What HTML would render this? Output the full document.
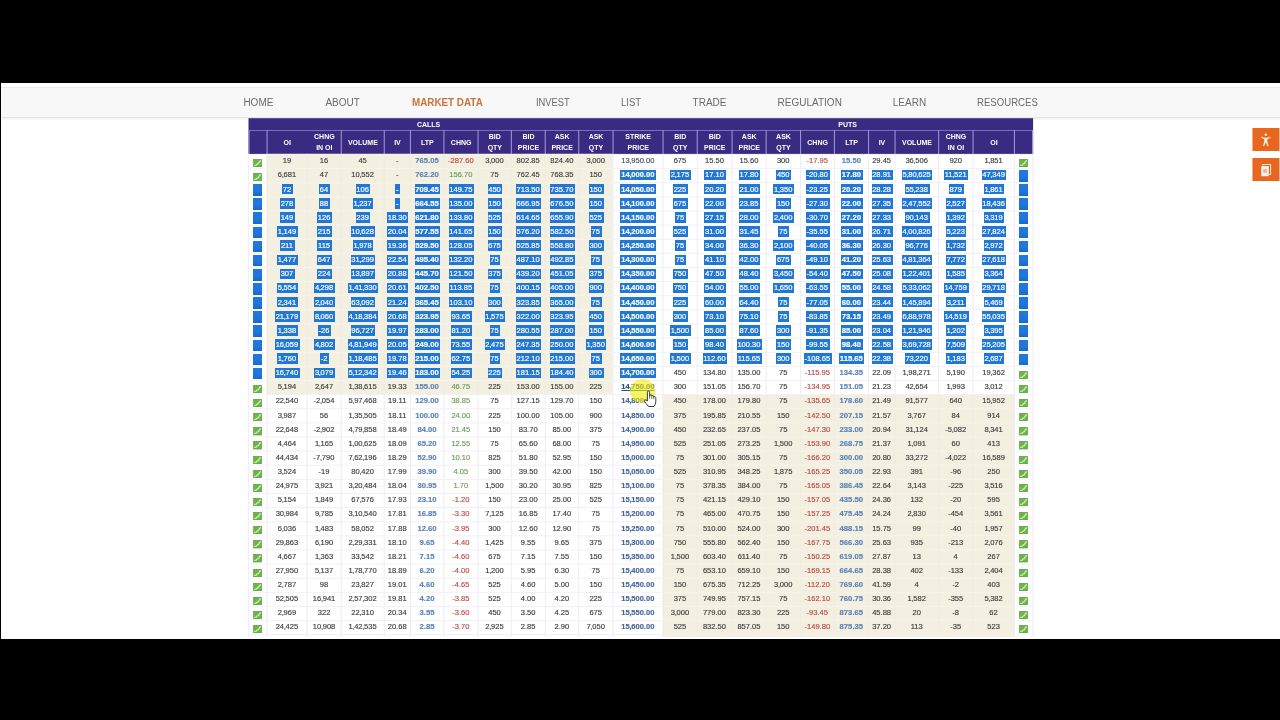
<!DOCTYPE html>
<html><head><meta charset="utf-8"><title>Option Chain</title>
<style>
html,body{margin:0;padding:0}
body{width:1280px;height:720px;overflow:hidden;position:relative;background:#fff;font-family:"Liberation Sans",sans-serif}
.bar{position:absolute;background:#000;z-index:50}
#nav{position:absolute;left:0;top:86.8px;width:1280px;height:29.6px;background:#f8f8f8;border-top:1px solid #ebebeb;border-bottom:1px solid #e6e6e6;box-shadow:0 1px 2px rgba(0,0,0,.08)}
.ni{position:absolute;top:0;height:29.6px;line-height:30.4px;font-size:10px;color:#6a6a6a;white-space:nowrap;text-align:left}
.ni span{display:inline-block;transform-origin:0 50%;filter:blur(.3px)}
.ni.act{color:#c8733a;font-weight:bold}
#tbl{position:absolute;left:0;top:0;width:1280px;height:720px;filter:blur(.4px)}
.hl{position:absolute;color:#fff;font-weight:bold;font-size:7px;line-height:14.4px;height:12px;transform:translateX(-50%)}
.hc{position:absolute;top:130.2px;height:23.6px;color:#fff;font-weight:bold;font-size:7px;line-height:10.6px;text-align:center;display:flex;align-items:center;justify-content:center}
.hc span{display:block;position:relative;top:.9px}
.rw{position:absolute;left:0;height:14.124px;width:1280px}
.c{position:absolute;top:0;height:14.124px;line-height:14.124px;font-size:7.55px;color:#3c3c3c;text-align:center;white-space:nowrap;-webkit-text-stroke:.15px}
.c span{display:inline-block;box-sizing:border-box;position:relative;left:.7px;padding-left:.6px;padding-right:1.6px;line-height:10.5px;height:10.5px;padding-top:.65px;vertical-align:top;margin-top:1.9px}
.c.ltp{color:#5b83b8;font-weight:bold;font-size:7.7px}
.c.sp{color:#46669c;font-weight:bold;font-size:7.56px}
.c.sp span{padding-left:1.6px;padding-right:1.6px;left:.2px}
.c.sp0{color:#454b58;font-weight:normal}
.c.neg{color:#bd4843}
.c.pos{color:#6a9c55}
.c.s span{background:#2277d3;color:#fff;-webkit-text-stroke:.22px #e8f4ff}
.c.hov span{text-decoration:underline;color:#2a4f8a}
.ic{position:absolute;left:4.4px;top:5.1px;width:9.1px;height:8.3px}
.bi{position:absolute;left:4.3px;top:2.1px;width:9.2px;height:11.6px;background:linear-gradient(#2079e0 0,#1f76dc 60%,#1a69c8 100%)}
.ob{position:absolute;left:1252px;transform:translateX(.46px);width:26.6px;height:22.6px;background:#e9661f}
.ob svg{position:absolute;left:0;top:0}
#ycirc{position:absolute;left:630.2px;top:379.4px;width:24.8px;height:23.3px;border-radius:50%;background:rgba(241,237,10,.62);filter:blur(.7px);z-index:5}
#hand{position:absolute;left:624px;top:376px;z-index:6}
.bgsvg{position:absolute;left:0;top:0}
.c b{font-weight:inherit;margin:0 -.3px}
.r .ic{left:5px}
.r .bi{left:4.9px}

</style></head>
<body>
<div id="nav">
<div class="ni" style="left:243.4px;width:29.6px"><span>HOME</span></div>
<div class="ni" style="left:325.4px;width:33.9px"><span>ABOUT</span></div>
<div class="ni act" style="left:411.7px;width:71.9px"><span style="transform:scaleX(0.985)">MARKET DATA</span></div>
<div class="ni" style="left:535.7px;width:33.6px"><span style="transform:scaleX(0.935)">INVEST</span></div>
<div class="ni" style="left:621.3px;width:19.2px"><span style="transform:scaleX(0.95)">LIST</span></div>
<div class="ni" style="left:692.6px;width:32.6px"><span>TRADE</span></div>
<div class="ni" style="left:777.6px;width:62.8px"><span>REGULATION</span></div>
<div class="ni" style="left:892.8px;width:32.6px"><span>LEARN</span></div>
<div class="ni" style="left:977.4px;width:59.5px"><span style="transform:scaleX(0.96)">RESOURCES</span></div>
</div>
<div id="tbl">
<svg class="bgsvg" width="1280" height="720" viewBox="0 0 1280 720"><rect x="248.5" y="118.2" width="784.6" height="35.7" fill="#392b82"/><rect x="266.7" y="153.84" width="346" height="240.11" fill="#f3efe1"/><rect x="662.7" y="393.95" width="351.4" height="254.23" fill="#f3efe1"/><rect x="248.5" y="130" width="784.6" height="0.9" fill="#8378c4"/><rect x="248.5" y="130" width="1.1" height="23.9" fill="#9b90d3"/><rect x="266.5" y="130" width="1.1" height="23.9" fill="#9b90d3"/><rect x="340.7" y="130" width="1.1" height="23.9" fill="#9b90d3"/><rect x="383.7" y="130" width="1.1" height="23.9" fill="#9b90d3"/><rect x="409.9" y="130" width="1.1" height="23.9" fill="#9b90d3"/><rect x="443.4" y="130" width="1.1" height="23.9" fill="#9b90d3"/><rect x="477.5" y="130" width="1.1" height="23.9" fill="#9b90d3"/><rect x="510.8" y="130" width="1.1" height="23.9" fill="#9b90d3"/><rect x="544.7" y="130" width="1.1" height="23.9" fill="#9b90d3"/><rect x="578.2" y="130" width="1.1" height="23.9" fill="#9b90d3"/><rect x="612.5" y="130" width="1.1" height="23.9" fill="#9b90d3"/><rect x="662.5" y="130" width="1.1" height="23.9" fill="#9b90d3"/><rect x="696.7" y="130" width="1.1" height="23.9" fill="#9b90d3"/><rect x="731.5" y="130" width="1.1" height="23.9" fill="#9b90d3"/><rect x="765.6" y="130" width="1.1" height="23.9" fill="#9b90d3"/><rect x="800" y="130" width="1.1" height="23.9" fill="#9b90d3"/><rect x="833.9" y="130" width="1.1" height="23.9" fill="#9b90d3"/><rect x="868" y="130" width="1.1" height="23.9" fill="#9b90d3"/><rect x="894.5" y="130" width="1.1" height="23.9" fill="#9b90d3"/><rect x="938.1" y="130" width="1.1" height="23.9" fill="#9b90d3"/><rect x="972.5" y="130" width="1.1" height="23.9" fill="#9b90d3"/><rect x="1013.9" y="130" width="1.1" height="23.9" fill="#9b90d3"/><rect x="1032" y="130" width="1.1" height="23.9" fill="#9b90d3"/><rect x="247.9" y="153.84" width="1" height="240.11" fill="#ededf4"/><rect x="247.9" y="393.95" width="1" height="254.23" fill="#ededf4"/><rect x="266.5" y="153.84" width="1" height="240.11" fill="#efece2"/><rect x="266.5" y="393.95" width="1" height="254.23" fill="#ededf4"/><rect x="306.6" y="153.84" width="1" height="240.11" fill="#efece2"/><rect x="306.6" y="393.95" width="1" height="254.23" fill="#ededf4"/><rect x="340.7" y="153.84" width="1" height="240.11" fill="#efece2"/><rect x="340.7" y="393.95" width="1" height="254.23" fill="#ededf4"/><rect x="383.7" y="153.84" width="1" height="240.11" fill="#efece2"/><rect x="383.7" y="393.95" width="1" height="254.23" fill="#ededf4"/><rect x="409.9" y="153.84" width="1" height="240.11" fill="#efece2"/><rect x="409.9" y="393.95" width="1" height="254.23" fill="#ededf4"/><rect x="443.4" y="153.84" width="1" height="240.11" fill="#efece2"/><rect x="443.4" y="393.95" width="1" height="254.23" fill="#ededf4"/><rect x="477.5" y="153.84" width="1" height="240.11" fill="#efece2"/><rect x="477.5" y="393.95" width="1" height="254.23" fill="#ededf4"/><rect x="510.8" y="153.84" width="1" height="240.11" fill="#efece2"/><rect x="510.8" y="393.95" width="1" height="254.23" fill="#ededf4"/><rect x="544.7" y="153.84" width="1" height="240.11" fill="#efece2"/><rect x="544.7" y="393.95" width="1" height="254.23" fill="#ededf4"/><rect x="578.2" y="153.84" width="1" height="240.11" fill="#efece2"/><rect x="578.2" y="393.95" width="1" height="254.23" fill="#ededf4"/><rect x="612.5" y="153.84" width="1" height="240.11" fill="#ededf4"/><rect x="612.5" y="393.95" width="1" height="254.23" fill="#ededf4"/><rect x="662.5" y="153.84" width="1" height="240.11" fill="#ededf4"/><rect x="662.5" y="393.95" width="1" height="254.23" fill="#efece2"/><rect x="696.7" y="153.84" width="1" height="240.11" fill="#ededf4"/><rect x="696.7" y="393.95" width="1" height="254.23" fill="#efece2"/><rect x="731.5" y="153.84" width="1" height="240.11" fill="#ededf4"/><rect x="731.5" y="393.95" width="1" height="254.23" fill="#efece2"/><rect x="765.6" y="153.84" width="1" height="240.11" fill="#ededf4"/><rect x="765.6" y="393.95" width="1" height="254.23" fill="#efece2"/><rect x="800" y="153.84" width="1" height="240.11" fill="#ededf4"/><rect x="800" y="393.95" width="1" height="254.23" fill="#efece2"/><rect x="833.9" y="153.84" width="1" height="240.11" fill="#ededf4"/><rect x="833.9" y="393.95" width="1" height="254.23" fill="#efece2"/><rect x="868" y="153.84" width="1" height="240.11" fill="#ededf4"/><rect x="868" y="393.95" width="1" height="254.23" fill="#efece2"/><rect x="894.5" y="153.84" width="1" height="240.11" fill="#ededf4"/><rect x="894.5" y="393.95" width="1" height="254.23" fill="#efece2"/><rect x="938.1" y="153.84" width="1" height="240.11" fill="#ededf4"/><rect x="938.1" y="393.95" width="1" height="254.23" fill="#efece2"/><rect x="972.5" y="153.84" width="1" height="240.11" fill="#ededf4"/><rect x="972.5" y="393.95" width="1" height="254.23" fill="#efece2"/><rect x="1013.9" y="153.84" width="1" height="240.11" fill="#ededf4"/><rect x="1013.9" y="393.95" width="1" height="254.23" fill="#ededf4"/><rect x="1032.5" y="153.84" width="1" height="240.11" fill="#ededf4"/><rect x="1032.5" y="393.95" width="1" height="254.23" fill="#ededf4"/><rect x="248.5" y="153.99" width="18.2" height="1" fill="#f5f5f9"/><rect x="266.7" y="153.99" width="346" height="1" fill="#f6f3ea"/><rect x="612.7" y="153.99" width="50" height="1" fill="#f1f1f6"/><rect x="662.7" y="153.99" width="351.4" height="1" fill="#f1f1f6"/><rect x="1014.1" y="153.99" width="19" height="1" fill="#f5f5f9"/><rect x="248.5" y="168.11" width="18.2" height="1" fill="#f5f5f9"/><rect x="266.7" y="168.11" width="346" height="1" fill="#f6f3ea"/><rect x="612.7" y="168.11" width="50" height="1" fill="#f1f1f6"/><rect x="662.7" y="168.11" width="351.4" height="1" fill="#f1f1f6"/><rect x="1014.1" y="168.11" width="19" height="1" fill="#f5f5f9"/><rect x="248.5" y="182.24" width="18.2" height="1" fill="#f5f5f9"/><rect x="266.7" y="182.24" width="346" height="1" fill="#f6f3ea"/><rect x="612.7" y="182.24" width="50" height="1" fill="#f1f1f6"/><rect x="662.7" y="182.24" width="351.4" height="1" fill="#f1f1f6"/><rect x="1014.1" y="182.24" width="19" height="1" fill="#f5f5f9"/><rect x="248.5" y="196.36" width="18.2" height="1" fill="#f5f5f9"/><rect x="266.7" y="196.36" width="346" height="1" fill="#f6f3ea"/><rect x="612.7" y="196.36" width="50" height="1" fill="#f1f1f6"/><rect x="662.7" y="196.36" width="351.4" height="1" fill="#f1f1f6"/><rect x="1014.1" y="196.36" width="19" height="1" fill="#f5f5f9"/><rect x="248.5" y="210.49" width="18.2" height="1" fill="#f5f5f9"/><rect x="266.7" y="210.49" width="346" height="1" fill="#f6f3ea"/><rect x="612.7" y="210.49" width="50" height="1" fill="#f1f1f6"/><rect x="662.7" y="210.49" width="351.4" height="1" fill="#f1f1f6"/><rect x="1014.1" y="210.49" width="19" height="1" fill="#f5f5f9"/><rect x="248.5" y="224.61" width="18.2" height="1" fill="#f5f5f9"/><rect x="266.7" y="224.61" width="346" height="1" fill="#f6f3ea"/><rect x="612.7" y="224.61" width="50" height="1" fill="#f1f1f6"/><rect x="662.7" y="224.61" width="351.4" height="1" fill="#f1f1f6"/><rect x="1014.1" y="224.61" width="19" height="1" fill="#f5f5f9"/><rect x="248.5" y="238.73" width="18.2" height="1" fill="#f5f5f9"/><rect x="266.7" y="238.73" width="346" height="1" fill="#f6f3ea"/><rect x="612.7" y="238.73" width="50" height="1" fill="#f1f1f6"/><rect x="662.7" y="238.73" width="351.4" height="1" fill="#f1f1f6"/><rect x="1014.1" y="238.73" width="19" height="1" fill="#f5f5f9"/><rect x="248.5" y="252.86" width="18.2" height="1" fill="#f5f5f9"/><rect x="266.7" y="252.86" width="346" height="1" fill="#f6f3ea"/><rect x="612.7" y="252.86" width="50" height="1" fill="#f1f1f6"/><rect x="662.7" y="252.86" width="351.4" height="1" fill="#f1f1f6"/><rect x="1014.1" y="252.86" width="19" height="1" fill="#f5f5f9"/><rect x="248.5" y="266.98" width="18.2" height="1" fill="#f5f5f9"/><rect x="266.7" y="266.98" width="346" height="1" fill="#f6f3ea"/><rect x="612.7" y="266.98" width="50" height="1" fill="#f1f1f6"/><rect x="662.7" y="266.98" width="351.4" height="1" fill="#f1f1f6"/><rect x="1014.1" y="266.98" width="19" height="1" fill="#f5f5f9"/><rect x="248.5" y="281.11" width="18.2" height="1" fill="#f5f5f9"/><rect x="266.7" y="281.11" width="346" height="1" fill="#f6f3ea"/><rect x="612.7" y="281.11" width="50" height="1" fill="#f1f1f6"/><rect x="662.7" y="281.11" width="351.4" height="1" fill="#f1f1f6"/><rect x="1014.1" y="281.11" width="19" height="1" fill="#f5f5f9"/><rect x="248.5" y="295.23" width="18.2" height="1" fill="#f5f5f9"/><rect x="266.7" y="295.23" width="346" height="1" fill="#f6f3ea"/><rect x="612.7" y="295.23" width="50" height="1" fill="#f1f1f6"/><rect x="662.7" y="295.23" width="351.4" height="1" fill="#f1f1f6"/><rect x="1014.1" y="295.23" width="19" height="1" fill="#f5f5f9"/><rect x="248.5" y="309.35" width="18.2" height="1" fill="#f5f5f9"/><rect x="266.7" y="309.35" width="346" height="1" fill="#f6f3ea"/><rect x="612.7" y="309.35" width="50" height="1" fill="#f1f1f6"/><rect x="662.7" y="309.35" width="351.4" height="1" fill="#f1f1f6"/><rect x="1014.1" y="309.35" width="19" height="1" fill="#f5f5f9"/><rect x="248.5" y="323.48" width="18.2" height="1" fill="#f5f5f9"/><rect x="266.7" y="323.48" width="346" height="1" fill="#f6f3ea"/><rect x="612.7" y="323.48" width="50" height="1" fill="#f1f1f6"/><rect x="662.7" y="323.48" width="351.4" height="1" fill="#f1f1f6"/><rect x="1014.1" y="323.48" width="19" height="1" fill="#f5f5f9"/><rect x="248.5" y="337.6" width="18.2" height="1" fill="#f5f5f9"/><rect x="266.7" y="337.6" width="346" height="1" fill="#f6f3ea"/><rect x="612.7" y="337.6" width="50" height="1" fill="#f1f1f6"/><rect x="662.7" y="337.6" width="351.4" height="1" fill="#f1f1f6"/><rect x="1014.1" y="337.6" width="19" height="1" fill="#f5f5f9"/><rect x="248.5" y="351.73" width="18.2" height="1" fill="#f5f5f9"/><rect x="266.7" y="351.73" width="346" height="1" fill="#f6f3ea"/><rect x="612.7" y="351.73" width="50" height="1" fill="#f1f1f6"/><rect x="662.7" y="351.73" width="351.4" height="1" fill="#f1f1f6"/><rect x="1014.1" y="351.73" width="19" height="1" fill="#f5f5f9"/><rect x="248.5" y="365.85" width="18.2" height="1" fill="#f5f5f9"/><rect x="266.7" y="365.85" width="346" height="1" fill="#f6f3ea"/><rect x="612.7" y="365.85" width="50" height="1" fill="#f1f1f6"/><rect x="662.7" y="365.85" width="351.4" height="1" fill="#f1f1f6"/><rect x="1014.1" y="365.85" width="19" height="1" fill="#f5f5f9"/><rect x="248.5" y="379.97" width="18.2" height="1" fill="#f5f5f9"/><rect x="266.7" y="379.97" width="346" height="1" fill="#f6f3ea"/><rect x="612.7" y="379.97" width="50" height="1" fill="#f1f1f6"/><rect x="662.7" y="379.97" width="351.4" height="1" fill="#f1f1f6"/><rect x="1014.1" y="379.97" width="19" height="1" fill="#f5f5f9"/><rect x="248.5" y="394.1" width="18.2" height="1" fill="#f5f5f9"/><rect x="266.7" y="394.1" width="346" height="1" fill="#f1f1f6"/><rect x="612.7" y="394.1" width="50" height="1" fill="#f1f1f6"/><rect x="662.7" y="394.1" width="351.4" height="1" fill="#f6f3ea"/><rect x="1014.1" y="394.1" width="19" height="1" fill="#f5f5f9"/><rect x="248.5" y="408.22" width="18.2" height="1" fill="#f5f5f9"/><rect x="266.7" y="408.22" width="346" height="1" fill="#f1f1f6"/><rect x="612.7" y="408.22" width="50" height="1" fill="#f1f1f6"/><rect x="662.7" y="408.22" width="351.4" height="1" fill="#f6f3ea"/><rect x="1014.1" y="408.22" width="19" height="1" fill="#f5f5f9"/><rect x="248.5" y="422.35" width="18.2" height="1" fill="#f5f5f9"/><rect x="266.7" y="422.35" width="346" height="1" fill="#f1f1f6"/><rect x="612.7" y="422.35" width="50" height="1" fill="#f1f1f6"/><rect x="662.7" y="422.35" width="351.4" height="1" fill="#f6f3ea"/><rect x="1014.1" y="422.35" width="19" height="1" fill="#f5f5f9"/><rect x="248.5" y="436.47" width="18.2" height="1" fill="#f5f5f9"/><rect x="266.7" y="436.47" width="346" height="1" fill="#f1f1f6"/><rect x="612.7" y="436.47" width="50" height="1" fill="#f1f1f6"/><rect x="662.7" y="436.47" width="351.4" height="1" fill="#f6f3ea"/><rect x="1014.1" y="436.47" width="19" height="1" fill="#f5f5f9"/><rect x="248.5" y="450.59" width="18.2" height="1" fill="#f5f5f9"/><rect x="266.7" y="450.59" width="346" height="1" fill="#f1f1f6"/><rect x="612.7" y="450.59" width="50" height="1" fill="#f1f1f6"/><rect x="662.7" y="450.59" width="351.4" height="1" fill="#f6f3ea"/><rect x="1014.1" y="450.59" width="19" height="1" fill="#f5f5f9"/><rect x="248.5" y="464.72" width="18.2" height="1" fill="#f5f5f9"/><rect x="266.7" y="464.72" width="346" height="1" fill="#f1f1f6"/><rect x="612.7" y="464.72" width="50" height="1" fill="#f1f1f6"/><rect x="662.7" y="464.72" width="351.4" height="1" fill="#f6f3ea"/><rect x="1014.1" y="464.72" width="19" height="1" fill="#f5f5f9"/><rect x="248.5" y="478.84" width="18.2" height="1" fill="#f5f5f9"/><rect x="266.7" y="478.84" width="346" height="1" fill="#f1f1f6"/><rect x="612.7" y="478.84" width="50" height="1" fill="#f1f1f6"/><rect x="662.7" y="478.84" width="351.4" height="1" fill="#f6f3ea"/><rect x="1014.1" y="478.84" width="19" height="1" fill="#f5f5f9"/><rect x="248.5" y="492.97" width="18.2" height="1" fill="#f5f5f9"/><rect x="266.7" y="492.97" width="346" height="1" fill="#f1f1f6"/><rect x="612.7" y="492.97" width="50" height="1" fill="#f1f1f6"/><rect x="662.7" y="492.97" width="351.4" height="1" fill="#f6f3ea"/><rect x="1014.1" y="492.97" width="19" height="1" fill="#f5f5f9"/><rect x="248.5" y="507.09" width="18.2" height="1" fill="#f5f5f9"/><rect x="266.7" y="507.09" width="346" height="1" fill="#f1f1f6"/><rect x="612.7" y="507.09" width="50" height="1" fill="#f1f1f6"/><rect x="662.7" y="507.09" width="351.4" height="1" fill="#f6f3ea"/><rect x="1014.1" y="507.09" width="19" height="1" fill="#f5f5f9"/><rect x="248.5" y="521.21" width="18.2" height="1" fill="#f5f5f9"/><rect x="266.7" y="521.21" width="346" height="1" fill="#f1f1f6"/><rect x="612.7" y="521.21" width="50" height="1" fill="#f1f1f6"/><rect x="662.7" y="521.21" width="351.4" height="1" fill="#f6f3ea"/><rect x="1014.1" y="521.21" width="19" height="1" fill="#f5f5f9"/><rect x="248.5" y="535.34" width="18.2" height="1" fill="#f5f5f9"/><rect x="266.7" y="535.34" width="346" height="1" fill="#f1f1f6"/><rect x="612.7" y="535.34" width="50" height="1" fill="#f1f1f6"/><rect x="662.7" y="535.34" width="351.4" height="1" fill="#f6f3ea"/><rect x="1014.1" y="535.34" width="19" height="1" fill="#f5f5f9"/><rect x="248.5" y="549.46" width="18.2" height="1" fill="#f5f5f9"/><rect x="266.7" y="549.46" width="346" height="1" fill="#f1f1f6"/><rect x="612.7" y="549.46" width="50" height="1" fill="#f1f1f6"/><rect x="662.7" y="549.46" width="351.4" height="1" fill="#f6f3ea"/><rect x="1014.1" y="549.46" width="19" height="1" fill="#f5f5f9"/><rect x="248.5" y="563.59" width="18.2" height="1" fill="#f5f5f9"/><rect x="266.7" y="563.59" width="346" height="1" fill="#f1f1f6"/><rect x="612.7" y="563.59" width="50" height="1" fill="#f1f1f6"/><rect x="662.7" y="563.59" width="351.4" height="1" fill="#f6f3ea"/><rect x="1014.1" y="563.59" width="19" height="1" fill="#f5f5f9"/><rect x="248.5" y="577.71" width="18.2" height="1" fill="#f5f5f9"/><rect x="266.7" y="577.71" width="346" height="1" fill="#f1f1f6"/><rect x="612.7" y="577.71" width="50" height="1" fill="#f1f1f6"/><rect x="662.7" y="577.71" width="351.4" height="1" fill="#f6f3ea"/><rect x="1014.1" y="577.71" width="19" height="1" fill="#f5f5f9"/><rect x="248.5" y="591.83" width="18.2" height="1" fill="#f5f5f9"/><rect x="266.7" y="591.83" width="346" height="1" fill="#f1f1f6"/><rect x="612.7" y="591.83" width="50" height="1" fill="#f1f1f6"/><rect x="662.7" y="591.83" width="351.4" height="1" fill="#f6f3ea"/><rect x="1014.1" y="591.83" width="19" height="1" fill="#f5f5f9"/><rect x="248.5" y="605.96" width="18.2" height="1" fill="#f5f5f9"/><rect x="266.7" y="605.96" width="346" height="1" fill="#f1f1f6"/><rect x="612.7" y="605.96" width="50" height="1" fill="#f1f1f6"/><rect x="662.7" y="605.96" width="351.4" height="1" fill="#f6f3ea"/><rect x="1014.1" y="605.96" width="19" height="1" fill="#f5f5f9"/><rect x="248.5" y="620.08" width="18.2" height="1" fill="#f5f5f9"/><rect x="266.7" y="620.08" width="346" height="1" fill="#f1f1f6"/><rect x="612.7" y="620.08" width="50" height="1" fill="#f1f1f6"/><rect x="662.7" y="620.08" width="351.4" height="1" fill="#f6f3ea"/><rect x="1014.1" y="620.08" width="19" height="1" fill="#f5f5f9"/><rect x="248.5" y="634.21" width="18.2" height="1" fill="#f5f5f9"/><rect x="266.7" y="634.21" width="346" height="1" fill="#f1f1f6"/><rect x="612.7" y="634.21" width="50" height="1" fill="#f1f1f6"/><rect x="662.7" y="634.21" width="351.4" height="1" fill="#f6f3ea"/><rect x="1014.1" y="634.21" width="19" height="1" fill="#f5f5f9"/></svg>
<div class="hl" style="left:428.6px;top:118.2px">CALLS</div>
<div class="hl" style="left:847.6px;top:118.2px">PUTS</div>
<div class="hc" style="left:249px;width:18.2px"><span></span></div>
<div class="hc" style="left:267.2px;width:40.1px"><span>OI</span></div>
<div class="hc" style="left:307.3px;width:34.1px"><span>CHNG<br>IN OI</span></div>
<div class="hc" style="left:341.4px;width:43px"><span>VOLUME</span></div>
<div class="hc" style="left:384.4px;width:26.2px"><span>IV</span></div>
<div class="hc" style="left:410.6px;width:33.5px"><span>LTP</span></div>
<div class="hc" style="left:444.1px;width:34.1px"><span>CHNG</span></div>
<div class="hc" style="left:478.2px;width:33.3px"><span>BID<br>QTY</span></div>
<div class="hc" style="left:511.5px;width:33.9px"><span>BID<br>PRICE</span></div>
<div class="hc" style="left:545.4px;width:33.5px"><span>ASK<br>PRICE</span></div>
<div class="hc" style="left:578.9px;width:34.3px"><span>ASK<br>QTY</span></div>
<div class="hc" style="left:613.2px;width:50px"><span>STRIKE<br>PRICE</span></div>
<div class="hc" style="left:663.2px;width:34.2px"><span>BID<br>QTY</span></div>
<div class="hc" style="left:697.4px;width:34.8px"><span>BID<br>PRICE</span></div>
<div class="hc" style="left:732.2px;width:34.1px"><span>ASK<br>PRICE</span></div>
<div class="hc" style="left:766.3px;width:34.4px"><span>ASK<br>QTY</span></div>
<div class="hc" style="left:800.7px;width:33.9px"><span>CHNG</span></div>
<div class="hc" style="left:834.6px;width:34.1px"><span>LTP</span></div>
<div class="hc" style="left:868.7px;width:26.5px"><span>IV</span></div>
<div class="hc" style="left:895.2px;width:43.6px"><span>VOLUME</span></div>
<div class="hc" style="left:938.8px;width:34.4px"><span>CHNG<br>IN OI</span></div>
<div class="hc" style="left:973.2px;width:41.4px"><span>OI</span></div>
<div class="hc" style="left:1014.6px;width:19px"><span></span></div>
<div class="rw" style="top:153.84px">
<div class="c icn" style="left:248.5px;width:18.2px"><svg class="ic" viewBox="0 0 18 17"><rect x=".5" y=".5" width="17" height="16" fill="#6db24c" stroke="#55913c"/><path d="M3.2 13.2 L6.4 12.6 L8.4 9.8 L11 9.4 L12.4 6.2 L14.8 3.6" fill="none" stroke="#c6f8ab" stroke-width="2.5" stroke-linecap="round" stroke-linejoin="round"/></svg></div>
<div class="c cr" style="left:266.7px;width:40.1px"><span>19</span></div>
<div class="c cr" style="left:306.8px;width:34.1px"><span>16</span></div>
<div class="c cr" style="left:340.9px;width:43px"><span>45</span></div>
<div class="c cr" style="left:383.9px;width:26.2px"><span>-</span></div>
<div class="c cr ltp" style="left:410.1px;width:33.5px"><span>765.05</span></div>
<div class="c cr neg" style="left:443.6px;width:34.1px"><span>-287.60</span></div>
<div class="c cr" style="left:477.7px;width:33.3px"><span>3<b>,</b>000</span></div>
<div class="c cr" style="left:511px;width:33.9px"><span>802.85</span></div>
<div class="c cr" style="left:544.9px;width:33.5px"><span>824.40</span></div>
<div class="c cr" style="left:578.4px;width:34.3px"><span>3<b>,</b>000</span></div>
<div class="c sp sp0" style="left:612.7px;width:50px"><span>13<b>,</b>950.00</span></div>
<div class="c" style="left:662.7px;width:34.2px"><span>675</span></div>
<div class="c" style="left:696.9px;width:34.8px"><span>15.50</span></div>
<div class="c" style="left:731.7px;width:34.1px"><span>15.60</span></div>
<div class="c" style="left:765.8px;width:34.4px"><span>300</span></div>
<div class="c neg" style="left:800.2px;width:33.9px"><span>-17.95</span></div>
<div class="c ltp" style="left:834.1px;width:34.1px"><span>15.50</span></div>
<div class="c" style="left:868.2px;width:26.5px"><span>29.45</span></div>
<div class="c" style="left:894.7px;width:43.6px"><span>36<b>,</b>506</span></div>
<div class="c" style="left:938.3px;width:34.4px"><span>920</span></div>
<div class="c" style="left:972.7px;width:41.4px"><span>1<b>,</b>851</span></div>
<div class="c icn r" style="left:1014.1px;width:19px"><svg class="ic" viewBox="0 0 18 17"><rect x=".5" y=".5" width="17" height="16" fill="#6db24c" stroke="#55913c"/><path d="M3.2 13.2 L6.4 12.6 L8.4 9.8 L11 9.4 L12.4 6.2 L14.8 3.6" fill="none" stroke="#c6f8ab" stroke-width="2.5" stroke-linecap="round" stroke-linejoin="round"/></svg></div>
</div>
<div class="rw" style="top:167.96px">
<div class="c icn" style="left:248.5px;width:18.2px"><svg class="ic" viewBox="0 0 18 17"><rect x=".5" y=".5" width="17" height="16" fill="#6db24c" stroke="#55913c"/><path d="M3.2 13.2 L6.4 12.6 L8.4 9.8 L11 9.4 L12.4 6.2 L14.8 3.6" fill="none" stroke="#c6f8ab" stroke-width="2.5" stroke-linecap="round" stroke-linejoin="round"/></svg></div>
<div class="c cr" style="left:266.7px;width:40.1px"><span>6<b>,</b>681</span></div>
<div class="c cr" style="left:306.8px;width:34.1px"><span>47</span></div>
<div class="c cr" style="left:340.9px;width:43px"><span>10<b>,</b>552</span></div>
<div class="c cr" style="left:383.9px;width:26.2px"><span>-</span></div>
<div class="c cr ltp" style="left:410.1px;width:33.5px"><span>762.20</span></div>
<div class="c cr pos" style="left:443.6px;width:34.1px"><span>156.70</span></div>
<div class="c cr" style="left:477.7px;width:33.3px"><span>75</span></div>
<div class="c cr" style="left:511px;width:33.9px"><span>762.45</span></div>
<div class="c cr" style="left:544.9px;width:33.5px"><span>768.35</span></div>
<div class="c cr" style="left:578.4px;width:34.3px"><span>150</span></div>
<div class="c sp s" style="left:612.7px;width:50px"><span>14<b>,</b>000.00</span></div>
<div class="c s" style="left:662.7px;width:34.2px"><span>2<b>,</b>175</span></div>
<div class="c s" style="left:696.9px;width:34.8px"><span>17.10</span></div>
<div class="c s" style="left:731.7px;width:34.1px"><span>17.80</span></div>
<div class="c s" style="left:765.8px;width:34.4px"><span>450</span></div>
<div class="c neg s" style="left:800.2px;width:33.9px"><span>-20.80</span></div>
<div class="c ltp s" style="left:834.1px;width:34.1px"><span>17.80</span></div>
<div class="c s" style="left:868.2px;width:26.5px"><span>28.91</span></div>
<div class="c s" style="left:894.7px;width:43.6px"><span>5<b>,</b>80<b>,</b>625</span></div>
<div class="c s" style="left:938.3px;width:34.4px"><span>11<b>,</b>521</span></div>
<div class="c s" style="left:972.7px;width:41.4px"><span>47<b>,</b>349</span></div>
<div class="c icn r" style="left:1014.1px;width:19px"><i class="bi"></i></div>
</div>
<div class="rw" style="top:182.09px">
<div class="c icn" style="left:248.5px;width:18.2px"><i class="bi"></i></div>
<div class="c cr s" style="left:266.7px;width:40.1px"><span>72</span></div>
<div class="c cr s" style="left:306.8px;width:34.1px"><span>64</span></div>
<div class="c cr s" style="left:340.9px;width:43px"><span>106</span></div>
<div class="c cr s" style="left:383.9px;width:26.2px"><span>-</span></div>
<div class="c cr ltp s" style="left:410.1px;width:33.5px"><span>709.45</span></div>
<div class="c cr pos s" style="left:443.6px;width:34.1px"><span>149.75</span></div>
<div class="c cr s" style="left:477.7px;width:33.3px"><span>450</span></div>
<div class="c cr s" style="left:511px;width:33.9px"><span>713.50</span></div>
<div class="c cr s" style="left:544.9px;width:33.5px"><span>735.70</span></div>
<div class="c cr s" style="left:578.4px;width:34.3px"><span>150</span></div>
<div class="c sp s" style="left:612.7px;width:50px"><span>14<b>,</b>050.00</span></div>
<div class="c s" style="left:662.7px;width:34.2px"><span>225</span></div>
<div class="c s" style="left:696.9px;width:34.8px"><span>20.20</span></div>
<div class="c s" style="left:731.7px;width:34.1px"><span>21.00</span></div>
<div class="c s" style="left:765.8px;width:34.4px"><span>1<b>,</b>350</span></div>
<div class="c neg s" style="left:800.2px;width:33.9px"><span>-23.25</span></div>
<div class="c ltp s" style="left:834.1px;width:34.1px"><span>20.20</span></div>
<div class="c s" style="left:868.2px;width:26.5px"><span>28.28</span></div>
<div class="c s" style="left:894.7px;width:43.6px"><span>55<b>,</b>238</span></div>
<div class="c s" style="left:938.3px;width:34.4px"><span>879</span></div>
<div class="c s" style="left:972.7px;width:41.4px"><span>1<b>,</b>861</span></div>
<div class="c icn r" style="left:1014.1px;width:19px"><i class="bi"></i></div>
</div>
<div class="rw" style="top:196.21px">
<div class="c icn" style="left:248.5px;width:18.2px"><i class="bi"></i></div>
<div class="c cr s" style="left:266.7px;width:40.1px"><span>278</span></div>
<div class="c cr s" style="left:306.8px;width:34.1px"><span>88</span></div>
<div class="c cr s" style="left:340.9px;width:43px"><span>1<b>,</b>237</span></div>
<div class="c cr s" style="left:383.9px;width:26.2px"><span>-</span></div>
<div class="c cr ltp s" style="left:410.1px;width:33.5px"><span>664.55</span></div>
<div class="c cr pos s" style="left:443.6px;width:34.1px"><span>135.00</span></div>
<div class="c cr s" style="left:477.7px;width:33.3px"><span>150</span></div>
<div class="c cr s" style="left:511px;width:33.9px"><span>666.95</span></div>
<div class="c cr s" style="left:544.9px;width:33.5px"><span>676.50</span></div>
<div class="c cr s" style="left:578.4px;width:34.3px"><span>150</span></div>
<div class="c sp s" style="left:612.7px;width:50px"><span>14<b>,</b>100.00</span></div>
<div class="c s" style="left:662.7px;width:34.2px"><span>675</span></div>
<div class="c s" style="left:696.9px;width:34.8px"><span>22.00</span></div>
<div class="c s" style="left:731.7px;width:34.1px"><span>23.85</span></div>
<div class="c s" style="left:765.8px;width:34.4px"><span>150</span></div>
<div class="c neg s" style="left:800.2px;width:33.9px"><span>-27.30</span></div>
<div class="c ltp s" style="left:834.1px;width:34.1px"><span>22.00</span></div>
<div class="c s" style="left:868.2px;width:26.5px"><span>27.35</span></div>
<div class="c s" style="left:894.7px;width:43.6px"><span>2<b>,</b>47<b>,</b>552</span></div>
<div class="c s" style="left:938.3px;width:34.4px"><span>2<b>,</b>527</span></div>
<div class="c s" style="left:972.7px;width:41.4px"><span>18<b>,</b>436</span></div>
<div class="c icn r" style="left:1014.1px;width:19px"><i class="bi"></i></div>
</div>
<div class="rw" style="top:210.34px">
<div class="c icn" style="left:248.5px;width:18.2px"><i class="bi"></i></div>
<div class="c cr s" style="left:266.7px;width:40.1px"><span>149</span></div>
<div class="c cr s" style="left:306.8px;width:34.1px"><span>126</span></div>
<div class="c cr s" style="left:340.9px;width:43px"><span>239</span></div>
<div class="c cr s" style="left:383.9px;width:26.2px"><span>18.30</span></div>
<div class="c cr ltp s" style="left:410.1px;width:33.5px"><span>621.80</span></div>
<div class="c cr pos s" style="left:443.6px;width:34.1px"><span>133.80</span></div>
<div class="c cr s" style="left:477.7px;width:33.3px"><span>525</span></div>
<div class="c cr s" style="left:511px;width:33.9px"><span>614.65</span></div>
<div class="c cr s" style="left:544.9px;width:33.5px"><span>655.90</span></div>
<div class="c cr s" style="left:578.4px;width:34.3px"><span>525</span></div>
<div class="c sp s" style="left:612.7px;width:50px"><span>14<b>,</b>150.00</span></div>
<div class="c s" style="left:662.7px;width:34.2px"><span>75</span></div>
<div class="c s" style="left:696.9px;width:34.8px"><span>27.15</span></div>
<div class="c s" style="left:731.7px;width:34.1px"><span>28.00</span></div>
<div class="c s" style="left:765.8px;width:34.4px"><span>2<b>,</b>400</span></div>
<div class="c neg s" style="left:800.2px;width:33.9px"><span>-30.70</span></div>
<div class="c ltp s" style="left:834.1px;width:34.1px"><span>27.20</span></div>
<div class="c s" style="left:868.2px;width:26.5px"><span>27.33</span></div>
<div class="c s" style="left:894.7px;width:43.6px"><span>90<b>,</b>143</span></div>
<div class="c s" style="left:938.3px;width:34.4px"><span>1<b>,</b>392</span></div>
<div class="c s" style="left:972.7px;width:41.4px"><span>3<b>,</b>319</span></div>
<div class="c icn r" style="left:1014.1px;width:19px"><i class="bi"></i></div>
</div>
<div class="rw" style="top:224.46px">
<div class="c icn" style="left:248.5px;width:18.2px"><i class="bi"></i></div>
<div class="c cr s" style="left:266.7px;width:40.1px"><span>1<b>,</b>149</span></div>
<div class="c cr s" style="left:306.8px;width:34.1px"><span>215</span></div>
<div class="c cr s" style="left:340.9px;width:43px"><span>10<b>,</b>628</span></div>
<div class="c cr s" style="left:383.9px;width:26.2px"><span>20.04</span></div>
<div class="c cr ltp s" style="left:410.1px;width:33.5px"><span>577.55</span></div>
<div class="c cr pos s" style="left:443.6px;width:34.1px"><span>141.65</span></div>
<div class="c cr s" style="left:477.7px;width:33.3px"><span>150</span></div>
<div class="c cr s" style="left:511px;width:33.9px"><span>576.20</span></div>
<div class="c cr s" style="left:544.9px;width:33.5px"><span>582.50</span></div>
<div class="c cr s" style="left:578.4px;width:34.3px"><span>75</span></div>
<div class="c sp s" style="left:612.7px;width:50px"><span>14<b>,</b>200.00</span></div>
<div class="c s" style="left:662.7px;width:34.2px"><span>525</span></div>
<div class="c s" style="left:696.9px;width:34.8px"><span>31.00</span></div>
<div class="c s" style="left:731.7px;width:34.1px"><span>31.45</span></div>
<div class="c s" style="left:765.8px;width:34.4px"><span>75</span></div>
<div class="c neg s" style="left:800.2px;width:33.9px"><span>-35.55</span></div>
<div class="c ltp s" style="left:834.1px;width:34.1px"><span>31.00</span></div>
<div class="c s" style="left:868.2px;width:26.5px"><span>26.71</span></div>
<div class="c s" style="left:894.7px;width:43.6px"><span>4<b>,</b>00<b>,</b>826</span></div>
<div class="c s" style="left:938.3px;width:34.4px"><span>5<b>,</b>223</span></div>
<div class="c s" style="left:972.7px;width:41.4px"><span>27<b>,</b>824</span></div>
<div class="c icn r" style="left:1014.1px;width:19px"><i class="bi"></i></div>
</div>
<div class="rw" style="top:238.58px">
<div class="c icn" style="left:248.5px;width:18.2px"><i class="bi"></i></div>
<div class="c cr s" style="left:266.7px;width:40.1px"><span>211</span></div>
<div class="c cr s" style="left:306.8px;width:34.1px"><span>115</span></div>
<div class="c cr s" style="left:340.9px;width:43px"><span>1<b>,</b>978</span></div>
<div class="c cr s" style="left:383.9px;width:26.2px"><span>19.36</span></div>
<div class="c cr ltp s" style="left:410.1px;width:33.5px"><span>529.50</span></div>
<div class="c cr pos s" style="left:443.6px;width:34.1px"><span>128.05</span></div>
<div class="c cr s" style="left:477.7px;width:33.3px"><span>675</span></div>
<div class="c cr s" style="left:511px;width:33.9px"><span>525.85</span></div>
<div class="c cr s" style="left:544.9px;width:33.5px"><span>558.80</span></div>
<div class="c cr s" style="left:578.4px;width:34.3px"><span>300</span></div>
<div class="c sp s" style="left:612.7px;width:50px"><span>14<b>,</b>250.00</span></div>
<div class="c s" style="left:662.7px;width:34.2px"><span>75</span></div>
<div class="c s" style="left:696.9px;width:34.8px"><span>34.00</span></div>
<div class="c s" style="left:731.7px;width:34.1px"><span>36.30</span></div>
<div class="c s" style="left:765.8px;width:34.4px"><span>2<b>,</b>100</span></div>
<div class="c neg s" style="left:800.2px;width:33.9px"><span>-40.05</span></div>
<div class="c ltp s" style="left:834.1px;width:34.1px"><span>36.30</span></div>
<div class="c s" style="left:868.2px;width:26.5px"><span>26.30</span></div>
<div class="c s" style="left:894.7px;width:43.6px"><span>96<b>,</b>776</span></div>
<div class="c s" style="left:938.3px;width:34.4px"><span>1<b>,</b>732</span></div>
<div class="c s" style="left:972.7px;width:41.4px"><span>2<b>,</b>972</span></div>
<div class="c icn r" style="left:1014.1px;width:19px"><i class="bi"></i></div>
</div>
<div class="rw" style="top:252.71px">
<div class="c icn" style="left:248.5px;width:18.2px"><i class="bi"></i></div>
<div class="c cr s" style="left:266.7px;width:40.1px"><span>1<b>,</b>477</span></div>
<div class="c cr s" style="left:306.8px;width:34.1px"><span>647</span></div>
<div class="c cr s" style="left:340.9px;width:43px"><span>31<b>,</b>299</span></div>
<div class="c cr s" style="left:383.9px;width:26.2px"><span>22.54</span></div>
<div class="c cr ltp s" style="left:410.1px;width:33.5px"><span>495.40</span></div>
<div class="c cr pos s" style="left:443.6px;width:34.1px"><span>132.20</span></div>
<div class="c cr s" style="left:477.7px;width:33.3px"><span>75</span></div>
<div class="c cr s" style="left:511px;width:33.9px"><span>487.10</span></div>
<div class="c cr s" style="left:544.9px;width:33.5px"><span>492.85</span></div>
<div class="c cr s" style="left:578.4px;width:34.3px"><span>75</span></div>
<div class="c sp s" style="left:612.7px;width:50px"><span>14<b>,</b>300.00</span></div>
<div class="c s" style="left:662.7px;width:34.2px"><span>75</span></div>
<div class="c s" style="left:696.9px;width:34.8px"><span>41.10</span></div>
<div class="c s" style="left:731.7px;width:34.1px"><span>42.00</span></div>
<div class="c s" style="left:765.8px;width:34.4px"><span>675</span></div>
<div class="c neg s" style="left:800.2px;width:33.9px"><span>-49.10</span></div>
<div class="c ltp s" style="left:834.1px;width:34.1px"><span>41.20</span></div>
<div class="c s" style="left:868.2px;width:26.5px"><span>25.63</span></div>
<div class="c s" style="left:894.7px;width:43.6px"><span>4<b>,</b>81<b>,</b>364</span></div>
<div class="c s" style="left:938.3px;width:34.4px"><span>7<b>,</b>772</span></div>
<div class="c s" style="left:972.7px;width:41.4px"><span>27<b>,</b>618</span></div>
<div class="c icn r" style="left:1014.1px;width:19px"><i class="bi"></i></div>
</div>
<div class="rw" style="top:266.83px">
<div class="c icn" style="left:248.5px;width:18.2px"><i class="bi"></i></div>
<div class="c cr s" style="left:266.7px;width:40.1px"><span>307</span></div>
<div class="c cr s" style="left:306.8px;width:34.1px"><span>224</span></div>
<div class="c cr s" style="left:340.9px;width:43px"><span>13<b>,</b>897</span></div>
<div class="c cr s" style="left:383.9px;width:26.2px"><span>20.88</span></div>
<div class="c cr ltp s" style="left:410.1px;width:33.5px"><span>445.70</span></div>
<div class="c cr pos s" style="left:443.6px;width:34.1px"><span>121.50</span></div>
<div class="c cr s" style="left:477.7px;width:33.3px"><span>375</span></div>
<div class="c cr s" style="left:511px;width:33.9px"><span>439.20</span></div>
<div class="c cr s" style="left:544.9px;width:33.5px"><span>451.05</span></div>
<div class="c cr s" style="left:578.4px;width:34.3px"><span>375</span></div>
<div class="c sp s" style="left:612.7px;width:50px"><span>14<b>,</b>350.00</span></div>
<div class="c s" style="left:662.7px;width:34.2px"><span>750</span></div>
<div class="c s" style="left:696.9px;width:34.8px"><span>47.50</span></div>
<div class="c s" style="left:731.7px;width:34.1px"><span>48.40</span></div>
<div class="c s" style="left:765.8px;width:34.4px"><span>3<b>,</b>450</span></div>
<div class="c neg s" style="left:800.2px;width:33.9px"><span>-54.40</span></div>
<div class="c ltp s" style="left:834.1px;width:34.1px"><span>47.50</span></div>
<div class="c s" style="left:868.2px;width:26.5px"><span>25.08</span></div>
<div class="c s" style="left:894.7px;width:43.6px"><span>1<b>,</b>22<b>,</b>401</span></div>
<div class="c s" style="left:938.3px;width:34.4px"><span>1<b>,</b>585</span></div>
<div class="c s" style="left:972.7px;width:41.4px"><span>3<b>,</b>364</span></div>
<div class="c icn r" style="left:1014.1px;width:19px"><i class="bi"></i></div>
</div>
<div class="rw" style="top:280.96px">
<div class="c icn" style="left:248.5px;width:18.2px"><i class="bi"></i></div>
<div class="c cr s" style="left:266.7px;width:40.1px"><span>5<b>,</b>554</span></div>
<div class="c cr s" style="left:306.8px;width:34.1px"><span>4<b>,</b>298</span></div>
<div class="c cr s" style="left:340.9px;width:43px"><span>1<b>,</b>41<b>,</b>330</span></div>
<div class="c cr s" style="left:383.9px;width:26.2px"><span>20.61</span></div>
<div class="c cr ltp s" style="left:410.1px;width:33.5px"><span>402.50</span></div>
<div class="c cr pos s" style="left:443.6px;width:34.1px"><span>113.85</span></div>
<div class="c cr s" style="left:477.7px;width:33.3px"><span>75</span></div>
<div class="c cr s" style="left:511px;width:33.9px"><span>400.15</span></div>
<div class="c cr s" style="left:544.9px;width:33.5px"><span>405.00</span></div>
<div class="c cr s" style="left:578.4px;width:34.3px"><span>900</span></div>
<div class="c sp s" style="left:612.7px;width:50px"><span>14<b>,</b>400.00</span></div>
<div class="c s" style="left:662.7px;width:34.2px"><span>750</span></div>
<div class="c s" style="left:696.9px;width:34.8px"><span>54.00</span></div>
<div class="c s" style="left:731.7px;width:34.1px"><span>55.00</span></div>
<div class="c s" style="left:765.8px;width:34.4px"><span>1<b>,</b>650</span></div>
<div class="c neg s" style="left:800.2px;width:33.9px"><span>-63.55</span></div>
<div class="c ltp s" style="left:834.1px;width:34.1px"><span>55.00</span></div>
<div class="c s" style="left:868.2px;width:26.5px"><span>24.58</span></div>
<div class="c s" style="left:894.7px;width:43.6px"><span>5<b>,</b>33<b>,</b>062</span></div>
<div class="c s" style="left:938.3px;width:34.4px"><span>14<b>,</b>759</span></div>
<div class="c s" style="left:972.7px;width:41.4px"><span>29<b>,</b>718</span></div>
<div class="c icn r" style="left:1014.1px;width:19px"><i class="bi"></i></div>
</div>
<div class="rw" style="top:295.08px">
<div class="c icn" style="left:248.5px;width:18.2px"><i class="bi"></i></div>
<div class="c cr s" style="left:266.7px;width:40.1px"><span>2<b>,</b>341</span></div>
<div class="c cr s" style="left:306.8px;width:34.1px"><span>2<b>,</b>040</span></div>
<div class="c cr s" style="left:340.9px;width:43px"><span>63<b>,</b>092</span></div>
<div class="c cr s" style="left:383.9px;width:26.2px"><span>21.24</span></div>
<div class="c cr ltp s" style="left:410.1px;width:33.5px"><span>365.45</span></div>
<div class="c cr pos s" style="left:443.6px;width:34.1px"><span>103.10</span></div>
<div class="c cr s" style="left:477.7px;width:33.3px"><span>300</span></div>
<div class="c cr s" style="left:511px;width:33.9px"><span>323.85</span></div>
<div class="c cr s" style="left:544.9px;width:33.5px"><span>365.00</span></div>
<div class="c cr s" style="left:578.4px;width:34.3px"><span>75</span></div>
<div class="c sp s" style="left:612.7px;width:50px"><span>14<b>,</b>450.00</span></div>
<div class="c s" style="left:662.7px;width:34.2px"><span>225</span></div>
<div class="c s" style="left:696.9px;width:34.8px"><span>60.00</span></div>
<div class="c s" style="left:731.7px;width:34.1px"><span>64.40</span></div>
<div class="c s" style="left:765.8px;width:34.4px"><span>75</span></div>
<div class="c neg s" style="left:800.2px;width:33.9px"><span>-77.05</span></div>
<div class="c ltp s" style="left:834.1px;width:34.1px"><span>60.00</span></div>
<div class="c s" style="left:868.2px;width:26.5px"><span>23.44</span></div>
<div class="c s" style="left:894.7px;width:43.6px"><span>1<b>,</b>45<b>,</b>894</span></div>
<div class="c s" style="left:938.3px;width:34.4px"><span>3<b>,</b>211</span></div>
<div class="c s" style="left:972.7px;width:41.4px"><span>5<b>,</b>469</span></div>
<div class="c icn r" style="left:1014.1px;width:19px"><i class="bi"></i></div>
</div>
<div class="rw" style="top:309.2px">
<div class="c icn" style="left:248.5px;width:18.2px"><i class="bi"></i></div>
<div class="c cr s" style="left:266.7px;width:40.1px"><span>21<b>,</b>179</span></div>
<div class="c cr s" style="left:306.8px;width:34.1px"><span>8<b>,</b>060</span></div>
<div class="c cr s" style="left:340.9px;width:43px"><span>4<b>,</b>18<b>,</b>384</span></div>
<div class="c cr s" style="left:383.9px;width:26.2px"><span>20.68</span></div>
<div class="c cr ltp s" style="left:410.1px;width:33.5px"><span>323.95</span></div>
<div class="c cr pos s" style="left:443.6px;width:34.1px"><span>93.65</span></div>
<div class="c cr s" style="left:477.7px;width:33.3px"><span>1<b>,</b>575</span></div>
<div class="c cr s" style="left:511px;width:33.9px"><span>322.00</span></div>
<div class="c cr s" style="left:544.9px;width:33.5px"><span>323.95</span></div>
<div class="c cr s" style="left:578.4px;width:34.3px"><span>450</span></div>
<div class="c sp s" style="left:612.7px;width:50px"><span>14<b>,</b>500.00</span></div>
<div class="c s" style="left:662.7px;width:34.2px"><span>300</span></div>
<div class="c s" style="left:696.9px;width:34.8px"><span>73.10</span></div>
<div class="c s" style="left:731.7px;width:34.1px"><span>75.10</span></div>
<div class="c s" style="left:765.8px;width:34.4px"><span>75</span></div>
<div class="c neg s" style="left:800.2px;width:33.9px"><span>-83.85</span></div>
<div class="c ltp s" style="left:834.1px;width:34.1px"><span>73.15</span></div>
<div class="c s" style="left:868.2px;width:26.5px"><span>23.49</span></div>
<div class="c s" style="left:894.7px;width:43.6px"><span>6<b>,</b>88<b>,</b>978</span></div>
<div class="c s" style="left:938.3px;width:34.4px"><span>14<b>,</b>519</span></div>
<div class="c s" style="left:972.7px;width:41.4px"><span>55<b>,</b>035</span></div>
<div class="c icn r" style="left:1014.1px;width:19px"><i class="bi"></i></div>
</div>
<div class="rw" style="top:323.33px">
<div class="c icn" style="left:248.5px;width:18.2px"><i class="bi"></i></div>
<div class="c cr s" style="left:266.7px;width:40.1px"><span>1<b>,</b>338</span></div>
<div class="c cr s" style="left:306.8px;width:34.1px"><span>-26</span></div>
<div class="c cr s" style="left:340.9px;width:43px"><span>96<b>,</b>727</span></div>
<div class="c cr s" style="left:383.9px;width:26.2px"><span>19.97</span></div>
<div class="c cr ltp s" style="left:410.1px;width:33.5px"><span>283.00</span></div>
<div class="c cr pos s" style="left:443.6px;width:34.1px"><span>81.20</span></div>
<div class="c cr s" style="left:477.7px;width:33.3px"><span>75</span></div>
<div class="c cr s" style="left:511px;width:33.9px"><span>280.55</span></div>
<div class="c cr s" style="left:544.9px;width:33.5px"><span>287.00</span></div>
<div class="c cr s" style="left:578.4px;width:34.3px"><span>150</span></div>
<div class="c sp s" style="left:612.7px;width:50px"><span>14<b>,</b>550.00</span></div>
<div class="c s" style="left:662.7px;width:34.2px"><span>1<b>,</b>500</span></div>
<div class="c s" style="left:696.9px;width:34.8px"><span>85.00</span></div>
<div class="c s" style="left:731.7px;width:34.1px"><span>87.60</span></div>
<div class="c s" style="left:765.8px;width:34.4px"><span>300</span></div>
<div class="c neg s" style="left:800.2px;width:33.9px"><span>-91.35</span></div>
<div class="c ltp s" style="left:834.1px;width:34.1px"><span>85.00</span></div>
<div class="c s" style="left:868.2px;width:26.5px"><span>23.04</span></div>
<div class="c s" style="left:894.7px;width:43.6px"><span>1<b>,</b>21<b>,</b>946</span></div>
<div class="c s" style="left:938.3px;width:34.4px"><span>1<b>,</b>202</span></div>
<div class="c s" style="left:972.7px;width:41.4px"><span>3<b>,</b>395</span></div>
<div class="c icn r" style="left:1014.1px;width:19px"><i class="bi"></i></div>
</div>
<div class="rw" style="top:337.45px">
<div class="c icn" style="left:248.5px;width:18.2px"><i class="bi"></i></div>
<div class="c cr s" style="left:266.7px;width:40.1px"><span>16<b>,</b>059</span></div>
<div class="c cr s" style="left:306.8px;width:34.1px"><span>4<b>,</b>802</span></div>
<div class="c cr s" style="left:340.9px;width:43px"><span>4<b>,</b>81<b>,</b>949</span></div>
<div class="c cr s" style="left:383.9px;width:26.2px"><span>20.05</span></div>
<div class="c cr ltp s" style="left:410.1px;width:33.5px"><span>249.00</span></div>
<div class="c cr pos s" style="left:443.6px;width:34.1px"><span>73.55</span></div>
<div class="c cr s" style="left:477.7px;width:33.3px"><span>2<b>,</b>475</span></div>
<div class="c cr s" style="left:511px;width:33.9px"><span>247.35</span></div>
<div class="c cr s" style="left:544.9px;width:33.5px"><span>250.00</span></div>
<div class="c cr s" style="left:578.4px;width:34.3px"><span>1<b>,</b>350</span></div>
<div class="c sp s" style="left:612.7px;width:50px"><span>14<b>,</b>600.00</span></div>
<div class="c s" style="left:662.7px;width:34.2px"><span>150</span></div>
<div class="c s" style="left:696.9px;width:34.8px"><span>98.40</span></div>
<div class="c s" style="left:731.7px;width:34.1px"><span>100.30</span></div>
<div class="c s" style="left:765.8px;width:34.4px"><span>150</span></div>
<div class="c neg s" style="left:800.2px;width:33.9px"><span>-99.55</span></div>
<div class="c ltp s" style="left:834.1px;width:34.1px"><span>98.40</span></div>
<div class="c s" style="left:868.2px;width:26.5px"><span>22.58</span></div>
<div class="c s" style="left:894.7px;width:43.6px"><span>3<b>,</b>69<b>,</b>728</span></div>
<div class="c s" style="left:938.3px;width:34.4px"><span>7<b>,</b>509</span></div>
<div class="c s" style="left:972.7px;width:41.4px"><span>25<b>,</b>205</span></div>
<div class="c icn r" style="left:1014.1px;width:19px"><i class="bi"></i></div>
</div>
<div class="rw" style="top:351.58px">
<div class="c icn" style="left:248.5px;width:18.2px"><i class="bi"></i></div>
<div class="c cr s" style="left:266.7px;width:40.1px"><span>1<b>,</b>760</span></div>
<div class="c cr s" style="left:306.8px;width:34.1px"><span>-2</span></div>
<div class="c cr s" style="left:340.9px;width:43px"><span>1<b>,</b>18<b>,</b>485</span></div>
<div class="c cr s" style="left:383.9px;width:26.2px"><span>19.78</span></div>
<div class="c cr ltp s" style="left:410.1px;width:33.5px"><span>215.00</span></div>
<div class="c cr pos s" style="left:443.6px;width:34.1px"><span>62.75</span></div>
<div class="c cr s" style="left:477.7px;width:33.3px"><span>75</span></div>
<div class="c cr s" style="left:511px;width:33.9px"><span>212.10</span></div>
<div class="c cr s" style="left:544.9px;width:33.5px"><span>215.00</span></div>
<div class="c cr s" style="left:578.4px;width:34.3px"><span>75</span></div>
<div class="c sp s" style="left:612.7px;width:50px"><span>14<b>,</b>650.00</span></div>
<div class="c s" style="left:662.7px;width:34.2px"><span>1<b>,</b>500</span></div>
<div class="c s" style="left:696.9px;width:34.8px"><span>112.60</span></div>
<div class="c s" style="left:731.7px;width:34.1px"><span>115.65</span></div>
<div class="c s" style="left:765.8px;width:34.4px"><span>300</span></div>
<div class="c neg s" style="left:800.2px;width:33.9px"><span>-108.65</span></div>
<div class="c ltp s" style="left:834.1px;width:34.1px"><span>115.65</span></div>
<div class="c s" style="left:868.2px;width:26.5px"><span>22.38</span></div>
<div class="c s" style="left:894.7px;width:43.6px"><span>73<b>,</b>220</span></div>
<div class="c s" style="left:938.3px;width:34.4px"><span>1<b>,</b>183</span></div>
<div class="c s" style="left:972.7px;width:41.4px"><span>2<b>,</b>687</span></div>
<div class="c icn r" style="left:1014.1px;width:19px"><i class="bi"></i></div>
</div>
<div class="rw" style="top:365.7px">
<div class="c icn" style="left:248.5px;width:18.2px"><i class="bi"></i></div>
<div class="c cr s" style="left:266.7px;width:40.1px"><span>16<b>,</b>740</span></div>
<div class="c cr s" style="left:306.8px;width:34.1px"><span>3<b>,</b>079</span></div>
<div class="c cr s" style="left:340.9px;width:43px"><span>5<b>,</b>12<b>,</b>342</span></div>
<div class="c cr s" style="left:383.9px;width:26.2px"><span>19.46</span></div>
<div class="c cr ltp s" style="left:410.1px;width:33.5px"><span>183.00</span></div>
<div class="c cr pos s" style="left:443.6px;width:34.1px"><span>54.25</span></div>
<div class="c cr s" style="left:477.7px;width:33.3px"><span>225</span></div>
<div class="c cr s" style="left:511px;width:33.9px"><span>181.15</span></div>
<div class="c cr s" style="left:544.9px;width:33.5px"><span>184.40</span></div>
<div class="c cr s" style="left:578.4px;width:34.3px"><span>300</span></div>
<div class="c sp s" style="left:612.7px;width:50px"><span>14<b>,</b>700.00</span></div>
<div class="c" style="left:662.7px;width:34.2px"><span>450</span></div>
<div class="c" style="left:696.9px;width:34.8px"><span>134.80</span></div>
<div class="c" style="left:731.7px;width:34.1px"><span>135.00</span></div>
<div class="c" style="left:765.8px;width:34.4px"><span>75</span></div>
<div class="c neg" style="left:800.2px;width:33.9px"><span>-115.95</span></div>
<div class="c ltp" style="left:834.1px;width:34.1px"><span>134.35</span></div>
<div class="c" style="left:868.2px;width:26.5px"><span>22.09</span></div>
<div class="c" style="left:894.7px;width:43.6px"><span>1<b>,</b>98<b>,</b>271</span></div>
<div class="c" style="left:938.3px;width:34.4px"><span>5<b>,</b>190</span></div>
<div class="c" style="left:972.7px;width:41.4px"><span>19<b>,</b>362</span></div>
<div class="c icn r" style="left:1014.1px;width:19px"><svg class="ic" viewBox="0 0 18 17"><rect x=".5" y=".5" width="17" height="16" fill="#6db24c" stroke="#55913c"/><path d="M3.2 13.2 L6.4 12.6 L8.4 9.8 L11 9.4 L12.4 6.2 L14.8 3.6" fill="none" stroke="#c6f8ab" stroke-width="2.5" stroke-linecap="round" stroke-linejoin="round"/></svg></div>
</div>
<div class="rw" style="top:379.82px">
<div class="c icn" style="left:248.5px;width:18.2px"><svg class="ic" viewBox="0 0 18 17"><rect x=".5" y=".5" width="17" height="16" fill="#6db24c" stroke="#55913c"/><path d="M3.2 13.2 L6.4 12.6 L8.4 9.8 L11 9.4 L12.4 6.2 L14.8 3.6" fill="none" stroke="#c6f8ab" stroke-width="2.5" stroke-linecap="round" stroke-linejoin="round"/></svg></div>
<div class="c cr" style="left:266.7px;width:40.1px"><span>5<b>,</b>194</span></div>
<div class="c cr" style="left:306.8px;width:34.1px"><span>2<b>,</b>647</span></div>
<div class="c cr" style="left:340.9px;width:43px"><span>1<b>,</b>38<b>,</b>615</span></div>
<div class="c cr" style="left:383.9px;width:26.2px"><span>19.33</span></div>
<div class="c cr ltp" style="left:410.1px;width:33.5px"><span>155.00</span></div>
<div class="c cr pos" style="left:443.6px;width:34.1px"><span>46.75</span></div>
<div class="c cr" style="left:477.7px;width:33.3px"><span>225</span></div>
<div class="c cr" style="left:511px;width:33.9px"><span>153.00</span></div>
<div class="c cr" style="left:544.9px;width:33.5px"><span>155.00</span></div>
<div class="c cr" style="left:578.4px;width:34.3px"><span>225</span></div>
<div class="c sp hov" style="left:612.7px;width:50px"><span>14<b>,</b>750.00</span></div>
<div class="c" style="left:662.7px;width:34.2px"><span>300</span></div>
<div class="c" style="left:696.9px;width:34.8px"><span>151.05</span></div>
<div class="c" style="left:731.7px;width:34.1px"><span>156.70</span></div>
<div class="c" style="left:765.8px;width:34.4px"><span>75</span></div>
<div class="c neg" style="left:800.2px;width:33.9px"><span>-134.95</span></div>
<div class="c ltp" style="left:834.1px;width:34.1px"><span>151.05</span></div>
<div class="c" style="left:868.2px;width:26.5px"><span>21.23</span></div>
<div class="c" style="left:894.7px;width:43.6px"><span>42<b>,</b>654</span></div>
<div class="c" style="left:938.3px;width:34.4px"><span>1<b>,</b>993</span></div>
<div class="c" style="left:972.7px;width:41.4px"><span>3<b>,</b>012</span></div>
<div class="c icn r" style="left:1014.1px;width:19px"><svg class="ic" viewBox="0 0 18 17"><rect x=".5" y=".5" width="17" height="16" fill="#6db24c" stroke="#55913c"/><path d="M3.2 13.2 L6.4 12.6 L8.4 9.8 L11 9.4 L12.4 6.2 L14.8 3.6" fill="none" stroke="#c6f8ab" stroke-width="2.5" stroke-linecap="round" stroke-linejoin="round"/></svg></div>
</div>
<div class="rw" style="top:393.95px">
<div class="c icn" style="left:248.5px;width:18.2px"><svg class="ic" viewBox="0 0 18 17"><rect x=".5" y=".5" width="17" height="16" fill="#6db24c" stroke="#55913c"/><path d="M3.2 13.2 L6.4 12.6 L8.4 9.8 L11 9.4 L12.4 6.2 L14.8 3.6" fill="none" stroke="#c6f8ab" stroke-width="2.5" stroke-linecap="round" stroke-linejoin="round"/></svg></div>
<div class="c" style="left:266.7px;width:40.1px"><span>22<b>,</b>540</span></div>
<div class="c" style="left:306.8px;width:34.1px"><span>-2<b>,</b>054</span></div>
<div class="c" style="left:340.9px;width:43px"><span>5<b>,</b>97<b>,</b>468</span></div>
<div class="c" style="left:383.9px;width:26.2px"><span>19.11</span></div>
<div class="c ltp" style="left:410.1px;width:33.5px"><span>129.00</span></div>
<div class="c pos" style="left:443.6px;width:34.1px"><span>38.85</span></div>
<div class="c" style="left:477.7px;width:33.3px"><span>75</span></div>
<div class="c" style="left:511px;width:33.9px"><span>127.15</span></div>
<div class="c" style="left:544.9px;width:33.5px"><span>129.70</span></div>
<div class="c" style="left:578.4px;width:34.3px"><span>150</span></div>
<div class="c sp" style="left:612.7px;width:50px"><span>14<b>,</b>800.00</span></div>
<div class="c cr" style="left:662.7px;width:34.2px"><span>450</span></div>
<div class="c cr" style="left:696.9px;width:34.8px"><span>178.00</span></div>
<div class="c cr" style="left:731.7px;width:34.1px"><span>179.80</span></div>
<div class="c cr" style="left:765.8px;width:34.4px"><span>75</span></div>
<div class="c cr neg" style="left:800.2px;width:33.9px"><span>-135.65</span></div>
<div class="c cr ltp" style="left:834.1px;width:34.1px"><span>178.60</span></div>
<div class="c cr" style="left:868.2px;width:26.5px"><span>21.49</span></div>
<div class="c cr" style="left:894.7px;width:43.6px"><span>91<b>,</b>577</span></div>
<div class="c cr" style="left:938.3px;width:34.4px"><span>640</span></div>
<div class="c cr" style="left:972.7px;width:41.4px"><span>15<b>,</b>952</span></div>
<div class="c icn r" style="left:1014.1px;width:19px"><svg class="ic" viewBox="0 0 18 17"><rect x=".5" y=".5" width="17" height="16" fill="#6db24c" stroke="#55913c"/><path d="M3.2 13.2 L6.4 12.6 L8.4 9.8 L11 9.4 L12.4 6.2 L14.8 3.6" fill="none" stroke="#c6f8ab" stroke-width="2.5" stroke-linecap="round" stroke-linejoin="round"/></svg></div>
</div>
<div class="rw" style="top:408.07px">
<div class="c icn" style="left:248.5px;width:18.2px"><svg class="ic" viewBox="0 0 18 17"><rect x=".5" y=".5" width="17" height="16" fill="#6db24c" stroke="#55913c"/><path d="M3.2 13.2 L6.4 12.6 L8.4 9.8 L11 9.4 L12.4 6.2 L14.8 3.6" fill="none" stroke="#c6f8ab" stroke-width="2.5" stroke-linecap="round" stroke-linejoin="round"/></svg></div>
<div class="c" style="left:266.7px;width:40.1px"><span>3<b>,</b>987</span></div>
<div class="c" style="left:306.8px;width:34.1px"><span>56</span></div>
<div class="c" style="left:340.9px;width:43px"><span>1<b>,</b>35<b>,</b>505</span></div>
<div class="c" style="left:383.9px;width:26.2px"><span>18.11</span></div>
<div class="c ltp" style="left:410.1px;width:33.5px"><span>100.00</span></div>
<div class="c pos" style="left:443.6px;width:34.1px"><span>24.00</span></div>
<div class="c" style="left:477.7px;width:33.3px"><span>225</span></div>
<div class="c" style="left:511px;width:33.9px"><span>100.00</span></div>
<div class="c" style="left:544.9px;width:33.5px"><span>105.00</span></div>
<div class="c" style="left:578.4px;width:34.3px"><span>900</span></div>
<div class="c sp" style="left:612.7px;width:50px"><span>14<b>,</b>850.00</span></div>
<div class="c cr" style="left:662.7px;width:34.2px"><span>375</span></div>
<div class="c cr" style="left:696.9px;width:34.8px"><span>195.85</span></div>
<div class="c cr" style="left:731.7px;width:34.1px"><span>210.55</span></div>
<div class="c cr" style="left:765.8px;width:34.4px"><span>150</span></div>
<div class="c cr neg" style="left:800.2px;width:33.9px"><span>-142.50</span></div>
<div class="c cr ltp" style="left:834.1px;width:34.1px"><span>207.15</span></div>
<div class="c cr" style="left:868.2px;width:26.5px"><span>21.57</span></div>
<div class="c cr" style="left:894.7px;width:43.6px"><span>3<b>,</b>767</span></div>
<div class="c cr" style="left:938.3px;width:34.4px"><span>84</span></div>
<div class="c cr" style="left:972.7px;width:41.4px"><span>914</span></div>
<div class="c icn r" style="left:1014.1px;width:19px"><svg class="ic" viewBox="0 0 18 17"><rect x=".5" y=".5" width="17" height="16" fill="#6db24c" stroke="#55913c"/><path d="M3.2 13.2 L6.4 12.6 L8.4 9.8 L11 9.4 L12.4 6.2 L14.8 3.6" fill="none" stroke="#c6f8ab" stroke-width="2.5" stroke-linecap="round" stroke-linejoin="round"/></svg></div>
</div>
<div class="rw" style="top:422.2px">
<div class="c icn" style="left:248.5px;width:18.2px"><svg class="ic" viewBox="0 0 18 17"><rect x=".5" y=".5" width="17" height="16" fill="#6db24c" stroke="#55913c"/><path d="M3.2 13.2 L6.4 12.6 L8.4 9.8 L11 9.4 L12.4 6.2 L14.8 3.6" fill="none" stroke="#c6f8ab" stroke-width="2.5" stroke-linecap="round" stroke-linejoin="round"/></svg></div>
<div class="c" style="left:266.7px;width:40.1px"><span>22<b>,</b>648</span></div>
<div class="c" style="left:306.8px;width:34.1px"><span>-2<b>,</b>902</span></div>
<div class="c" style="left:340.9px;width:43px"><span>4<b>,</b>79<b>,</b>858</span></div>
<div class="c" style="left:383.9px;width:26.2px"><span>18.49</span></div>
<div class="c ltp" style="left:410.1px;width:33.5px"><span>84.00</span></div>
<div class="c pos" style="left:443.6px;width:34.1px"><span>21.45</span></div>
<div class="c" style="left:477.7px;width:33.3px"><span>150</span></div>
<div class="c" style="left:511px;width:33.9px"><span>83.70</span></div>
<div class="c" style="left:544.9px;width:33.5px"><span>85.00</span></div>
<div class="c" style="left:578.4px;width:34.3px"><span>375</span></div>
<div class="c sp" style="left:612.7px;width:50px"><span>14<b>,</b>900.00</span></div>
<div class="c cr" style="left:662.7px;width:34.2px"><span>450</span></div>
<div class="c cr" style="left:696.9px;width:34.8px"><span>232.65</span></div>
<div class="c cr" style="left:731.7px;width:34.1px"><span>237.05</span></div>
<div class="c cr" style="left:765.8px;width:34.4px"><span>75</span></div>
<div class="c cr neg" style="left:800.2px;width:33.9px"><span>-147.30</span></div>
<div class="c cr ltp" style="left:834.1px;width:34.1px"><span>233.00</span></div>
<div class="c cr" style="left:868.2px;width:26.5px"><span>20.94</span></div>
<div class="c cr" style="left:894.7px;width:43.6px"><span>31<b>,</b>124</span></div>
<div class="c cr" style="left:938.3px;width:34.4px"><span>-5<b>,</b>082</span></div>
<div class="c cr" style="left:972.7px;width:41.4px"><span>8<b>,</b>341</span></div>
<div class="c icn r" style="left:1014.1px;width:19px"><svg class="ic" viewBox="0 0 18 17"><rect x=".5" y=".5" width="17" height="16" fill="#6db24c" stroke="#55913c"/><path d="M3.2 13.2 L6.4 12.6 L8.4 9.8 L11 9.4 L12.4 6.2 L14.8 3.6" fill="none" stroke="#c6f8ab" stroke-width="2.5" stroke-linecap="round" stroke-linejoin="round"/></svg></div>
</div>
<div class="rw" style="top:436.32px">
<div class="c icn" style="left:248.5px;width:18.2px"><svg class="ic" viewBox="0 0 18 17"><rect x=".5" y=".5" width="17" height="16" fill="#6db24c" stroke="#55913c"/><path d="M3.2 13.2 L6.4 12.6 L8.4 9.8 L11 9.4 L12.4 6.2 L14.8 3.6" fill="none" stroke="#c6f8ab" stroke-width="2.5" stroke-linecap="round" stroke-linejoin="round"/></svg></div>
<div class="c" style="left:266.7px;width:40.1px"><span>4<b>,</b>464</span></div>
<div class="c" style="left:306.8px;width:34.1px"><span>1<b>,</b>165</span></div>
<div class="c" style="left:340.9px;width:43px"><span>1<b>,</b>00<b>,</b>625</span></div>
<div class="c" style="left:383.9px;width:26.2px"><span>18.09</span></div>
<div class="c ltp" style="left:410.1px;width:33.5px"><span>65.20</span></div>
<div class="c pos" style="left:443.6px;width:34.1px"><span>12.55</span></div>
<div class="c" style="left:477.7px;width:33.3px"><span>75</span></div>
<div class="c" style="left:511px;width:33.9px"><span>65.60</span></div>
<div class="c" style="left:544.9px;width:33.5px"><span>68.00</span></div>
<div class="c" style="left:578.4px;width:34.3px"><span>75</span></div>
<div class="c sp" style="left:612.7px;width:50px"><span>14<b>,</b>950.00</span></div>
<div class="c cr" style="left:662.7px;width:34.2px"><span>525</span></div>
<div class="c cr" style="left:696.9px;width:34.8px"><span>251.05</span></div>
<div class="c cr" style="left:731.7px;width:34.1px"><span>273.25</span></div>
<div class="c cr" style="left:765.8px;width:34.4px"><span>1<b>,</b>500</span></div>
<div class="c cr neg" style="left:800.2px;width:33.9px"><span>-153.90</span></div>
<div class="c cr ltp" style="left:834.1px;width:34.1px"><span>268.75</span></div>
<div class="c cr" style="left:868.2px;width:26.5px"><span>21.37</span></div>
<div class="c cr" style="left:894.7px;width:43.6px"><span>1<b>,</b>091</span></div>
<div class="c cr" style="left:938.3px;width:34.4px"><span>60</span></div>
<div class="c cr" style="left:972.7px;width:41.4px"><span>413</span></div>
<div class="c icn r" style="left:1014.1px;width:19px"><svg class="ic" viewBox="0 0 18 17"><rect x=".5" y=".5" width="17" height="16" fill="#6db24c" stroke="#55913c"/><path d="M3.2 13.2 L6.4 12.6 L8.4 9.8 L11 9.4 L12.4 6.2 L14.8 3.6" fill="none" stroke="#c6f8ab" stroke-width="2.5" stroke-linecap="round" stroke-linejoin="round"/></svg></div>
</div>
<div class="rw" style="top:450.44px">
<div class="c icn" style="left:248.5px;width:18.2px"><svg class="ic" viewBox="0 0 18 17"><rect x=".5" y=".5" width="17" height="16" fill="#6db24c" stroke="#55913c"/><path d="M3.2 13.2 L6.4 12.6 L8.4 9.8 L11 9.4 L12.4 6.2 L14.8 3.6" fill="none" stroke="#c6f8ab" stroke-width="2.5" stroke-linecap="round" stroke-linejoin="round"/></svg></div>
<div class="c" style="left:266.7px;width:40.1px"><span>44<b>,</b>434</span></div>
<div class="c" style="left:306.8px;width:34.1px"><span>-7<b>,</b>790</span></div>
<div class="c" style="left:340.9px;width:43px"><span>7<b>,</b>62<b>,</b>196</span></div>
<div class="c" style="left:383.9px;width:26.2px"><span>18.29</span></div>
<div class="c ltp" style="left:410.1px;width:33.5px"><span>52.90</span></div>
<div class="c pos" style="left:443.6px;width:34.1px"><span>10.10</span></div>
<div class="c" style="left:477.7px;width:33.3px"><span>825</span></div>
<div class="c" style="left:511px;width:33.9px"><span>51.80</span></div>
<div class="c" style="left:544.9px;width:33.5px"><span>52.95</span></div>
<div class="c" style="left:578.4px;width:34.3px"><span>150</span></div>
<div class="c sp" style="left:612.7px;width:50px"><span>15<b>,</b>000.00</span></div>
<div class="c cr" style="left:662.7px;width:34.2px"><span>75</span></div>
<div class="c cr" style="left:696.9px;width:34.8px"><span>301.00</span></div>
<div class="c cr" style="left:731.7px;width:34.1px"><span>305.15</span></div>
<div class="c cr" style="left:765.8px;width:34.4px"><span>75</span></div>
<div class="c cr neg" style="left:800.2px;width:33.9px"><span>-166.20</span></div>
<div class="c cr ltp" style="left:834.1px;width:34.1px"><span>300.00</span></div>
<div class="c cr" style="left:868.2px;width:26.5px"><span>20.80</span></div>
<div class="c cr" style="left:894.7px;width:43.6px"><span>33<b>,</b>272</span></div>
<div class="c cr" style="left:938.3px;width:34.4px"><span>-4<b>,</b>022</span></div>
<div class="c cr" style="left:972.7px;width:41.4px"><span>16<b>,</b>589</span></div>
<div class="c icn r" style="left:1014.1px;width:19px"><svg class="ic" viewBox="0 0 18 17"><rect x=".5" y=".5" width="17" height="16" fill="#6db24c" stroke="#55913c"/><path d="M3.2 13.2 L6.4 12.6 L8.4 9.8 L11 9.4 L12.4 6.2 L14.8 3.6" fill="none" stroke="#c6f8ab" stroke-width="2.5" stroke-linecap="round" stroke-linejoin="round"/></svg></div>
</div>
<div class="rw" style="top:464.57px">
<div class="c icn" style="left:248.5px;width:18.2px"><svg class="ic" viewBox="0 0 18 17"><rect x=".5" y=".5" width="17" height="16" fill="#6db24c" stroke="#55913c"/><path d="M3.2 13.2 L6.4 12.6 L8.4 9.8 L11 9.4 L12.4 6.2 L14.8 3.6" fill="none" stroke="#c6f8ab" stroke-width="2.5" stroke-linecap="round" stroke-linejoin="round"/></svg></div>
<div class="c" style="left:266.7px;width:40.1px"><span>3<b>,</b>524</span></div>
<div class="c" style="left:306.8px;width:34.1px"><span>-19</span></div>
<div class="c" style="left:340.9px;width:43px"><span>80<b>,</b>420</span></div>
<div class="c" style="left:383.9px;width:26.2px"><span>17.99</span></div>
<div class="c ltp" style="left:410.1px;width:33.5px"><span>39.90</span></div>
<div class="c pos" style="left:443.6px;width:34.1px"><span>4.05</span></div>
<div class="c" style="left:477.7px;width:33.3px"><span>300</span></div>
<div class="c" style="left:511px;width:33.9px"><span>39.50</span></div>
<div class="c" style="left:544.9px;width:33.5px"><span>42.00</span></div>
<div class="c" style="left:578.4px;width:34.3px"><span>150</span></div>
<div class="c sp" style="left:612.7px;width:50px"><span>15<b>,</b>050.00</span></div>
<div class="c cr" style="left:662.7px;width:34.2px"><span>525</span></div>
<div class="c cr" style="left:696.9px;width:34.8px"><span>310.95</span></div>
<div class="c cr" style="left:731.7px;width:34.1px"><span>348.25</span></div>
<div class="c cr" style="left:765.8px;width:34.4px"><span>1<b>,</b>875</span></div>
<div class="c cr neg" style="left:800.2px;width:33.9px"><span>-165.25</span></div>
<div class="c cr ltp" style="left:834.1px;width:34.1px"><span>350.05</span></div>
<div class="c cr" style="left:868.2px;width:26.5px"><span>22.93</span></div>
<div class="c cr" style="left:894.7px;width:43.6px"><span>391</span></div>
<div class="c cr" style="left:938.3px;width:34.4px"><span>-96</span></div>
<div class="c cr" style="left:972.7px;width:41.4px"><span>250</span></div>
<div class="c icn r" style="left:1014.1px;width:19px"><svg class="ic" viewBox="0 0 18 17"><rect x=".5" y=".5" width="17" height="16" fill="#6db24c" stroke="#55913c"/><path d="M3.2 13.2 L6.4 12.6 L8.4 9.8 L11 9.4 L12.4 6.2 L14.8 3.6" fill="none" stroke="#c6f8ab" stroke-width="2.5" stroke-linecap="round" stroke-linejoin="round"/></svg></div>
</div>
<div class="rw" style="top:478.69px">
<div class="c icn" style="left:248.5px;width:18.2px"><svg class="ic" viewBox="0 0 18 17"><rect x=".5" y=".5" width="17" height="16" fill="#6db24c" stroke="#55913c"/><path d="M3.2 13.2 L6.4 12.6 L8.4 9.8 L11 9.4 L12.4 6.2 L14.8 3.6" fill="none" stroke="#c6f8ab" stroke-width="2.5" stroke-linecap="round" stroke-linejoin="round"/></svg></div>
<div class="c" style="left:266.7px;width:40.1px"><span>24<b>,</b>975</span></div>
<div class="c" style="left:306.8px;width:34.1px"><span>3<b>,</b>921</span></div>
<div class="c" style="left:340.9px;width:43px"><span>3<b>,</b>20<b>,</b>484</span></div>
<div class="c" style="left:383.9px;width:26.2px"><span>18.04</span></div>
<div class="c ltp" style="left:410.1px;width:33.5px"><span>30.95</span></div>
<div class="c pos" style="left:443.6px;width:34.1px"><span>1.70</span></div>
<div class="c" style="left:477.7px;width:33.3px"><span>1<b>,</b>500</span></div>
<div class="c" style="left:511px;width:33.9px"><span>30.20</span></div>
<div class="c" style="left:544.9px;width:33.5px"><span>30.95</span></div>
<div class="c" style="left:578.4px;width:34.3px"><span>825</span></div>
<div class="c sp" style="left:612.7px;width:50px"><span>15<b>,</b>100.00</span></div>
<div class="c cr" style="left:662.7px;width:34.2px"><span>75</span></div>
<div class="c cr" style="left:696.9px;width:34.8px"><span>378.35</span></div>
<div class="c cr" style="left:731.7px;width:34.1px"><span>384.00</span></div>
<div class="c cr" style="left:765.8px;width:34.4px"><span>75</span></div>
<div class="c cr neg" style="left:800.2px;width:33.9px"><span>-165.05</span></div>
<div class="c cr ltp" style="left:834.1px;width:34.1px"><span>386.45</span></div>
<div class="c cr" style="left:868.2px;width:26.5px"><span>22.64</span></div>
<div class="c cr" style="left:894.7px;width:43.6px"><span>3<b>,</b>143</span></div>
<div class="c cr" style="left:938.3px;width:34.4px"><span>-225</span></div>
<div class="c cr" style="left:972.7px;width:41.4px"><span>3<b>,</b>516</span></div>
<div class="c icn r" style="left:1014.1px;width:19px"><svg class="ic" viewBox="0 0 18 17"><rect x=".5" y=".5" width="17" height="16" fill="#6db24c" stroke="#55913c"/><path d="M3.2 13.2 L6.4 12.6 L8.4 9.8 L11 9.4 L12.4 6.2 L14.8 3.6" fill="none" stroke="#c6f8ab" stroke-width="2.5" stroke-linecap="round" stroke-linejoin="round"/></svg></div>
</div>
<div class="rw" style="top:492.82px">
<div class="c icn" style="left:248.5px;width:18.2px"><svg class="ic" viewBox="0 0 18 17"><rect x=".5" y=".5" width="17" height="16" fill="#6db24c" stroke="#55913c"/><path d="M3.2 13.2 L6.4 12.6 L8.4 9.8 L11 9.4 L12.4 6.2 L14.8 3.6" fill="none" stroke="#c6f8ab" stroke-width="2.5" stroke-linecap="round" stroke-linejoin="round"/></svg></div>
<div class="c" style="left:266.7px;width:40.1px"><span>5<b>,</b>154</span></div>
<div class="c" style="left:306.8px;width:34.1px"><span>1<b>,</b>849</span></div>
<div class="c" style="left:340.9px;width:43px"><span>67<b>,</b>576</span></div>
<div class="c" style="left:383.9px;width:26.2px"><span>17.93</span></div>
<div class="c ltp" style="left:410.1px;width:33.5px"><span>23.10</span></div>
<div class="c neg" style="left:443.6px;width:34.1px"><span>-1.20</span></div>
<div class="c" style="left:477.7px;width:33.3px"><span>150</span></div>
<div class="c" style="left:511px;width:33.9px"><span>23.00</span></div>
<div class="c" style="left:544.9px;width:33.5px"><span>25.00</span></div>
<div class="c" style="left:578.4px;width:34.3px"><span>525</span></div>
<div class="c sp" style="left:612.7px;width:50px"><span>15<b>,</b>150.00</span></div>
<div class="c cr" style="left:662.7px;width:34.2px"><span>75</span></div>
<div class="c cr" style="left:696.9px;width:34.8px"><span>421.15</span></div>
<div class="c cr" style="left:731.7px;width:34.1px"><span>429.10</span></div>
<div class="c cr" style="left:765.8px;width:34.4px"><span>150</span></div>
<div class="c cr neg" style="left:800.2px;width:33.9px"><span>-157.05</span></div>
<div class="c cr ltp" style="left:834.1px;width:34.1px"><span>435.50</span></div>
<div class="c cr" style="left:868.2px;width:26.5px"><span>24.36</span></div>
<div class="c cr" style="left:894.7px;width:43.6px"><span>132</span></div>
<div class="c cr" style="left:938.3px;width:34.4px"><span>-20</span></div>
<div class="c cr" style="left:972.7px;width:41.4px"><span>595</span></div>
<div class="c icn r" style="left:1014.1px;width:19px"><svg class="ic" viewBox="0 0 18 17"><rect x=".5" y=".5" width="17" height="16" fill="#6db24c" stroke="#55913c"/><path d="M3.2 13.2 L6.4 12.6 L8.4 9.8 L11 9.4 L12.4 6.2 L14.8 3.6" fill="none" stroke="#c6f8ab" stroke-width="2.5" stroke-linecap="round" stroke-linejoin="round"/></svg></div>
</div>
<div class="rw" style="top:506.94px">
<div class="c icn" style="left:248.5px;width:18.2px"><svg class="ic" viewBox="0 0 18 17"><rect x=".5" y=".5" width="17" height="16" fill="#6db24c" stroke="#55913c"/><path d="M3.2 13.2 L6.4 12.6 L8.4 9.8 L11 9.4 L12.4 6.2 L14.8 3.6" fill="none" stroke="#c6f8ab" stroke-width="2.5" stroke-linecap="round" stroke-linejoin="round"/></svg></div>
<div class="c" style="left:266.7px;width:40.1px"><span>30<b>,</b>984</span></div>
<div class="c" style="left:306.8px;width:34.1px"><span>9<b>,</b>785</span></div>
<div class="c" style="left:340.9px;width:43px"><span>3<b>,</b>10<b>,</b>540</span></div>
<div class="c" style="left:383.9px;width:26.2px"><span>17.81</span></div>
<div class="c ltp" style="left:410.1px;width:33.5px"><span>16.85</span></div>
<div class="c neg" style="left:443.6px;width:34.1px"><span>-3.30</span></div>
<div class="c" style="left:477.7px;width:33.3px"><span>7<b>,</b>125</span></div>
<div class="c" style="left:511px;width:33.9px"><span>16.85</span></div>
<div class="c" style="left:544.9px;width:33.5px"><span>17.40</span></div>
<div class="c" style="left:578.4px;width:34.3px"><span>75</span></div>
<div class="c sp" style="left:612.7px;width:50px"><span>15<b>,</b>200.00</span></div>
<div class="c cr" style="left:662.7px;width:34.2px"><span>75</span></div>
<div class="c cr" style="left:696.9px;width:34.8px"><span>465.00</span></div>
<div class="c cr" style="left:731.7px;width:34.1px"><span>470.75</span></div>
<div class="c cr" style="left:765.8px;width:34.4px"><span>150</span></div>
<div class="c cr neg" style="left:800.2px;width:33.9px"><span>-157.25</span></div>
<div class="c cr ltp" style="left:834.1px;width:34.1px"><span>475.45</span></div>
<div class="c cr" style="left:868.2px;width:26.5px"><span>24.24</span></div>
<div class="c cr" style="left:894.7px;width:43.6px"><span>2<b>,</b>830</span></div>
<div class="c cr" style="left:938.3px;width:34.4px"><span>-454</span></div>
<div class="c cr" style="left:972.7px;width:41.4px"><span>3<b>,</b>561</span></div>
<div class="c icn r" style="left:1014.1px;width:19px"><svg class="ic" viewBox="0 0 18 17"><rect x=".5" y=".5" width="17" height="16" fill="#6db24c" stroke="#55913c"/><path d="M3.2 13.2 L6.4 12.6 L8.4 9.8 L11 9.4 L12.4 6.2 L14.8 3.6" fill="none" stroke="#c6f8ab" stroke-width="2.5" stroke-linecap="round" stroke-linejoin="round"/></svg></div>
</div>
<div class="rw" style="top:521.06px">
<div class="c icn" style="left:248.5px;width:18.2px"><svg class="ic" viewBox="0 0 18 17"><rect x=".5" y=".5" width="17" height="16" fill="#6db24c" stroke="#55913c"/><path d="M3.2 13.2 L6.4 12.6 L8.4 9.8 L11 9.4 L12.4 6.2 L14.8 3.6" fill="none" stroke="#c6f8ab" stroke-width="2.5" stroke-linecap="round" stroke-linejoin="round"/></svg></div>
<div class="c" style="left:266.7px;width:40.1px"><span>6<b>,</b>036</span></div>
<div class="c" style="left:306.8px;width:34.1px"><span>1<b>,</b>483</span></div>
<div class="c" style="left:340.9px;width:43px"><span>58<b>,</b>052</span></div>
<div class="c" style="left:383.9px;width:26.2px"><span>17.88</span></div>
<div class="c ltp" style="left:410.1px;width:33.5px"><span>12.60</span></div>
<div class="c neg" style="left:443.6px;width:34.1px"><span>-3.95</span></div>
<div class="c" style="left:477.7px;width:33.3px"><span>300</span></div>
<div class="c" style="left:511px;width:33.9px"><span>12.60</span></div>
<div class="c" style="left:544.9px;width:33.5px"><span>12.90</span></div>
<div class="c" style="left:578.4px;width:34.3px"><span>75</span></div>
<div class="c sp" style="left:612.7px;width:50px"><span>15<b>,</b>250.00</span></div>
<div class="c cr" style="left:662.7px;width:34.2px"><span>75</span></div>
<div class="c cr" style="left:696.9px;width:34.8px"><span>510.00</span></div>
<div class="c cr" style="left:731.7px;width:34.1px"><span>524.00</span></div>
<div class="c cr" style="left:765.8px;width:34.4px"><span>300</span></div>
<div class="c cr neg" style="left:800.2px;width:33.9px"><span>-201.45</span></div>
<div class="c cr ltp" style="left:834.1px;width:34.1px"><span>488.15</span></div>
<div class="c cr" style="left:868.2px;width:26.5px"><span>15.75</span></div>
<div class="c cr" style="left:894.7px;width:43.6px"><span>99</span></div>
<div class="c cr" style="left:938.3px;width:34.4px"><span>-40</span></div>
<div class="c cr" style="left:972.7px;width:41.4px"><span>1<b>,</b>957</span></div>
<div class="c icn r" style="left:1014.1px;width:19px"><svg class="ic" viewBox="0 0 18 17"><rect x=".5" y=".5" width="17" height="16" fill="#6db24c" stroke="#55913c"/><path d="M3.2 13.2 L6.4 12.6 L8.4 9.8 L11 9.4 L12.4 6.2 L14.8 3.6" fill="none" stroke="#c6f8ab" stroke-width="2.5" stroke-linecap="round" stroke-linejoin="round"/></svg></div>
</div>
<div class="rw" style="top:535.19px">
<div class="c icn" style="left:248.5px;width:18.2px"><svg class="ic" viewBox="0 0 18 17"><rect x=".5" y=".5" width="17" height="16" fill="#6db24c" stroke="#55913c"/><path d="M3.2 13.2 L6.4 12.6 L8.4 9.8 L11 9.4 L12.4 6.2 L14.8 3.6" fill="none" stroke="#c6f8ab" stroke-width="2.5" stroke-linecap="round" stroke-linejoin="round"/></svg></div>
<div class="c" style="left:266.7px;width:40.1px"><span>29<b>,</b>863</span></div>
<div class="c" style="left:306.8px;width:34.1px"><span>6<b>,</b>190</span></div>
<div class="c" style="left:340.9px;width:43px"><span>2<b>,</b>29<b>,</b>331</span></div>
<div class="c" style="left:383.9px;width:26.2px"><span>18.10</span></div>
<div class="c ltp" style="left:410.1px;width:33.5px"><span>9.65</span></div>
<div class="c neg" style="left:443.6px;width:34.1px"><span>-4.40</span></div>
<div class="c" style="left:477.7px;width:33.3px"><span>1<b>,</b>425</span></div>
<div class="c" style="left:511px;width:33.9px"><span>9.55</span></div>
<div class="c" style="left:544.9px;width:33.5px"><span>9.65</span></div>
<div class="c" style="left:578.4px;width:34.3px"><span>375</span></div>
<div class="c sp" style="left:612.7px;width:50px"><span>15<b>,</b>300.00</span></div>
<div class="c cr" style="left:662.7px;width:34.2px"><span>750</span></div>
<div class="c cr" style="left:696.9px;width:34.8px"><span>555.80</span></div>
<div class="c cr" style="left:731.7px;width:34.1px"><span>562.40</span></div>
<div class="c cr" style="left:765.8px;width:34.4px"><span>150</span></div>
<div class="c cr neg" style="left:800.2px;width:33.9px"><span>-167.75</span></div>
<div class="c cr ltp" style="left:834.1px;width:34.1px"><span>566.30</span></div>
<div class="c cr" style="left:868.2px;width:26.5px"><span>25.63</span></div>
<div class="c cr" style="left:894.7px;width:43.6px"><span>935</span></div>
<div class="c cr" style="left:938.3px;width:34.4px"><span>-213</span></div>
<div class="c cr" style="left:972.7px;width:41.4px"><span>2<b>,</b>076</span></div>
<div class="c icn r" style="left:1014.1px;width:19px"><svg class="ic" viewBox="0 0 18 17"><rect x=".5" y=".5" width="17" height="16" fill="#6db24c" stroke="#55913c"/><path d="M3.2 13.2 L6.4 12.6 L8.4 9.8 L11 9.4 L12.4 6.2 L14.8 3.6" fill="none" stroke="#c6f8ab" stroke-width="2.5" stroke-linecap="round" stroke-linejoin="round"/></svg></div>
</div>
<div class="rw" style="top:549.31px">
<div class="c icn" style="left:248.5px;width:18.2px"><svg class="ic" viewBox="0 0 18 17"><rect x=".5" y=".5" width="17" height="16" fill="#6db24c" stroke="#55913c"/><path d="M3.2 13.2 L6.4 12.6 L8.4 9.8 L11 9.4 L12.4 6.2 L14.8 3.6" fill="none" stroke="#c6f8ab" stroke-width="2.5" stroke-linecap="round" stroke-linejoin="round"/></svg></div>
<div class="c" style="left:266.7px;width:40.1px"><span>4<b>,</b>667</span></div>
<div class="c" style="left:306.8px;width:34.1px"><span>1<b>,</b>363</span></div>
<div class="c" style="left:340.9px;width:43px"><span>33<b>,</b>542</span></div>
<div class="c" style="left:383.9px;width:26.2px"><span>18.21</span></div>
<div class="c ltp" style="left:410.1px;width:33.5px"><span>7.15</span></div>
<div class="c neg" style="left:443.6px;width:34.1px"><span>-4.60</span></div>
<div class="c" style="left:477.7px;width:33.3px"><span>675</span></div>
<div class="c" style="left:511px;width:33.9px"><span>7.15</span></div>
<div class="c" style="left:544.9px;width:33.5px"><span>7.55</span></div>
<div class="c" style="left:578.4px;width:34.3px"><span>150</span></div>
<div class="c sp" style="left:612.7px;width:50px"><span>15<b>,</b>350.00</span></div>
<div class="c cr" style="left:662.7px;width:34.2px"><span>1<b>,</b>500</span></div>
<div class="c cr" style="left:696.9px;width:34.8px"><span>603.40</span></div>
<div class="c cr" style="left:731.7px;width:34.1px"><span>611.40</span></div>
<div class="c cr" style="left:765.8px;width:34.4px"><span>75</span></div>
<div class="c cr neg" style="left:800.2px;width:33.9px"><span>-150.25</span></div>
<div class="c cr ltp" style="left:834.1px;width:34.1px"><span>619.05</span></div>
<div class="c cr" style="left:868.2px;width:26.5px"><span>27.87</span></div>
<div class="c cr" style="left:894.7px;width:43.6px"><span>13</span></div>
<div class="c cr" style="left:938.3px;width:34.4px"><span>4</span></div>
<div class="c cr" style="left:972.7px;width:41.4px"><span>267</span></div>
<div class="c icn r" style="left:1014.1px;width:19px"><svg class="ic" viewBox="0 0 18 17"><rect x=".5" y=".5" width="17" height="16" fill="#6db24c" stroke="#55913c"/><path d="M3.2 13.2 L6.4 12.6 L8.4 9.8 L11 9.4 L12.4 6.2 L14.8 3.6" fill="none" stroke="#c6f8ab" stroke-width="2.5" stroke-linecap="round" stroke-linejoin="round"/></svg></div>
</div>
<div class="rw" style="top:563.44px">
<div class="c icn" style="left:248.5px;width:18.2px"><svg class="ic" viewBox="0 0 18 17"><rect x=".5" y=".5" width="17" height="16" fill="#6db24c" stroke="#55913c"/><path d="M3.2 13.2 L6.4 12.6 L8.4 9.8 L11 9.4 L12.4 6.2 L14.8 3.6" fill="none" stroke="#c6f8ab" stroke-width="2.5" stroke-linecap="round" stroke-linejoin="round"/></svg></div>
<div class="c" style="left:266.7px;width:40.1px"><span>27<b>,</b>950</span></div>
<div class="c" style="left:306.8px;width:34.1px"><span>5<b>,</b>137</span></div>
<div class="c" style="left:340.9px;width:43px"><span>1<b>,</b>78<b>,</b>770</span></div>
<div class="c" style="left:383.9px;width:26.2px"><span>18.89</span></div>
<div class="c ltp" style="left:410.1px;width:33.5px"><span>6.20</span></div>
<div class="c neg" style="left:443.6px;width:34.1px"><span>-4.00</span></div>
<div class="c" style="left:477.7px;width:33.3px"><span>1<b>,</b>200</span></div>
<div class="c" style="left:511px;width:33.9px"><span>5.95</span></div>
<div class="c" style="left:544.9px;width:33.5px"><span>6.30</span></div>
<div class="c" style="left:578.4px;width:34.3px"><span>75</span></div>
<div class="c sp" style="left:612.7px;width:50px"><span>15<b>,</b>400.00</span></div>
<div class="c cr" style="left:662.7px;width:34.2px"><span>75</span></div>
<div class="c cr" style="left:696.9px;width:34.8px"><span>653.10</span></div>
<div class="c cr" style="left:731.7px;width:34.1px"><span>659.10</span></div>
<div class="c cr" style="left:765.8px;width:34.4px"><span>150</span></div>
<div class="c cr neg" style="left:800.2px;width:33.9px"><span>-169.15</span></div>
<div class="c cr ltp" style="left:834.1px;width:34.1px"><span>664.65</span></div>
<div class="c cr" style="left:868.2px;width:26.5px"><span>28.38</span></div>
<div class="c cr" style="left:894.7px;width:43.6px"><span>402</span></div>
<div class="c cr" style="left:938.3px;width:34.4px"><span>-133</span></div>
<div class="c cr" style="left:972.7px;width:41.4px"><span>2<b>,</b>404</span></div>
<div class="c icn r" style="left:1014.1px;width:19px"><svg class="ic" viewBox="0 0 18 17"><rect x=".5" y=".5" width="17" height="16" fill="#6db24c" stroke="#55913c"/><path d="M3.2 13.2 L6.4 12.6 L8.4 9.8 L11 9.4 L12.4 6.2 L14.8 3.6" fill="none" stroke="#c6f8ab" stroke-width="2.5" stroke-linecap="round" stroke-linejoin="round"/></svg></div>
</div>
<div class="rw" style="top:577.56px">
<div class="c icn" style="left:248.5px;width:18.2px"><svg class="ic" viewBox="0 0 18 17"><rect x=".5" y=".5" width="17" height="16" fill="#6db24c" stroke="#55913c"/><path d="M3.2 13.2 L6.4 12.6 L8.4 9.8 L11 9.4 L12.4 6.2 L14.8 3.6" fill="none" stroke="#c6f8ab" stroke-width="2.5" stroke-linecap="round" stroke-linejoin="round"/></svg></div>
<div class="c" style="left:266.7px;width:40.1px"><span>2<b>,</b>787</span></div>
<div class="c" style="left:306.8px;width:34.1px"><span>98</span></div>
<div class="c" style="left:340.9px;width:43px"><span>23<b>,</b>827</span></div>
<div class="c" style="left:383.9px;width:26.2px"><span>19.01</span></div>
<div class="c ltp" style="left:410.1px;width:33.5px"><span>4.60</span></div>
<div class="c neg" style="left:443.6px;width:34.1px"><span>-4.65</span></div>
<div class="c" style="left:477.7px;width:33.3px"><span>525</span></div>
<div class="c" style="left:511px;width:33.9px"><span>4.60</span></div>
<div class="c" style="left:544.9px;width:33.5px"><span>5.00</span></div>
<div class="c" style="left:578.4px;width:34.3px"><span>150</span></div>
<div class="c sp" style="left:612.7px;width:50px"><span>15<b>,</b>450.00</span></div>
<div class="c cr" style="left:662.7px;width:34.2px"><span>150</span></div>
<div class="c cr" style="left:696.9px;width:34.8px"><span>675.35</span></div>
<div class="c cr" style="left:731.7px;width:34.1px"><span>712.25</span></div>
<div class="c cr" style="left:765.8px;width:34.4px"><span>3<b>,</b>000</span></div>
<div class="c cr neg" style="left:800.2px;width:33.9px"><span>-112.20</span></div>
<div class="c cr ltp" style="left:834.1px;width:34.1px"><span>769.60</span></div>
<div class="c cr" style="left:868.2px;width:26.5px"><span>41.59</span></div>
<div class="c cr" style="left:894.7px;width:43.6px"><span>4</span></div>
<div class="c cr" style="left:938.3px;width:34.4px"><span>-2</span></div>
<div class="c cr" style="left:972.7px;width:41.4px"><span>403</span></div>
<div class="c icn r" style="left:1014.1px;width:19px"><svg class="ic" viewBox="0 0 18 17"><rect x=".5" y=".5" width="17" height="16" fill="#6db24c" stroke="#55913c"/><path d="M3.2 13.2 L6.4 12.6 L8.4 9.8 L11 9.4 L12.4 6.2 L14.8 3.6" fill="none" stroke="#c6f8ab" stroke-width="2.5" stroke-linecap="round" stroke-linejoin="round"/></svg></div>
</div>
<div class="rw" style="top:591.68px">
<div class="c icn" style="left:248.5px;width:18.2px"><svg class="ic" viewBox="0 0 18 17"><rect x=".5" y=".5" width="17" height="16" fill="#6db24c" stroke="#55913c"/><path d="M3.2 13.2 L6.4 12.6 L8.4 9.8 L11 9.4 L12.4 6.2 L14.8 3.6" fill="none" stroke="#c6f8ab" stroke-width="2.5" stroke-linecap="round" stroke-linejoin="round"/></svg></div>
<div class="c" style="left:266.7px;width:40.1px"><span>52<b>,</b>505</span></div>
<div class="c" style="left:306.8px;width:34.1px"><span>16<b>,</b>941</span></div>
<div class="c" style="left:340.9px;width:43px"><span>2<b>,</b>57<b>,</b>302</span></div>
<div class="c" style="left:383.9px;width:26.2px"><span>19.81</span></div>
<div class="c ltp" style="left:410.1px;width:33.5px"><span>4.20</span></div>
<div class="c neg" style="left:443.6px;width:34.1px"><span>-3.85</span></div>
<div class="c" style="left:477.7px;width:33.3px"><span>525</span></div>
<div class="c" style="left:511px;width:33.9px"><span>4.00</span></div>
<div class="c" style="left:544.9px;width:33.5px"><span>4.20</span></div>
<div class="c" style="left:578.4px;width:34.3px"><span>225</span></div>
<div class="c sp" style="left:612.7px;width:50px"><span>15<b>,</b>500.00</span></div>
<div class="c cr" style="left:662.7px;width:34.2px"><span>375</span></div>
<div class="c cr" style="left:696.9px;width:34.8px"><span>749.95</span></div>
<div class="c cr" style="left:731.7px;width:34.1px"><span>757.15</span></div>
<div class="c cr" style="left:765.8px;width:34.4px"><span>75</span></div>
<div class="c cr neg" style="left:800.2px;width:33.9px"><span>-162.10</span></div>
<div class="c cr ltp" style="left:834.1px;width:34.1px"><span>760.75</span></div>
<div class="c cr" style="left:868.2px;width:26.5px"><span>30.36</span></div>
<div class="c cr" style="left:894.7px;width:43.6px"><span>1<b>,</b>582</span></div>
<div class="c cr" style="left:938.3px;width:34.4px"><span>-355</span></div>
<div class="c cr" style="left:972.7px;width:41.4px"><span>5<b>,</b>382</span></div>
<div class="c icn r" style="left:1014.1px;width:19px"><svg class="ic" viewBox="0 0 18 17"><rect x=".5" y=".5" width="17" height="16" fill="#6db24c" stroke="#55913c"/><path d="M3.2 13.2 L6.4 12.6 L8.4 9.8 L11 9.4 L12.4 6.2 L14.8 3.6" fill="none" stroke="#c6f8ab" stroke-width="2.5" stroke-linecap="round" stroke-linejoin="round"/></svg></div>
</div>
<div class="rw" style="top:605.81px">
<div class="c icn" style="left:248.5px;width:18.2px"><svg class="ic" viewBox="0 0 18 17"><rect x=".5" y=".5" width="17" height="16" fill="#6db24c" stroke="#55913c"/><path d="M3.2 13.2 L6.4 12.6 L8.4 9.8 L11 9.4 L12.4 6.2 L14.8 3.6" fill="none" stroke="#c6f8ab" stroke-width="2.5" stroke-linecap="round" stroke-linejoin="round"/></svg></div>
<div class="c" style="left:266.7px;width:40.1px"><span>2<b>,</b>969</span></div>
<div class="c" style="left:306.8px;width:34.1px"><span>322</span></div>
<div class="c" style="left:340.9px;width:43px"><span>22<b>,</b>310</span></div>
<div class="c" style="left:383.9px;width:26.2px"><span>20.34</span></div>
<div class="c ltp" style="left:410.1px;width:33.5px"><span>3.55</span></div>
<div class="c neg" style="left:443.6px;width:34.1px"><span>-3.60</span></div>
<div class="c" style="left:477.7px;width:33.3px"><span>450</span></div>
<div class="c" style="left:511px;width:33.9px"><span>3.50</span></div>
<div class="c" style="left:544.9px;width:33.5px"><span>4.25</span></div>
<div class="c" style="left:578.4px;width:34.3px"><span>675</span></div>
<div class="c sp" style="left:612.7px;width:50px"><span>15<b>,</b>550.00</span></div>
<div class="c cr" style="left:662.7px;width:34.2px"><span>3<b>,</b>000</span></div>
<div class="c cr" style="left:696.9px;width:34.8px"><span>779.00</span></div>
<div class="c cr" style="left:731.7px;width:34.1px"><span>823.30</span></div>
<div class="c cr" style="left:765.8px;width:34.4px"><span>225</span></div>
<div class="c cr neg" style="left:800.2px;width:33.9px"><span>-93.45</span></div>
<div class="c cr ltp" style="left:834.1px;width:34.1px"><span>873.65</span></div>
<div class="c cr" style="left:868.2px;width:26.5px"><span>45.88</span></div>
<div class="c cr" style="left:894.7px;width:43.6px"><span>20</span></div>
<div class="c cr" style="left:938.3px;width:34.4px"><span>-8</span></div>
<div class="c cr" style="left:972.7px;width:41.4px"><span>62</span></div>
<div class="c icn r" style="left:1014.1px;width:19px"><svg class="ic" viewBox="0 0 18 17"><rect x=".5" y=".5" width="17" height="16" fill="#6db24c" stroke="#55913c"/><path d="M3.2 13.2 L6.4 12.6 L8.4 9.8 L11 9.4 L12.4 6.2 L14.8 3.6" fill="none" stroke="#c6f8ab" stroke-width="2.5" stroke-linecap="round" stroke-linejoin="round"/></svg></div>
</div>
<div class="rw" style="top:619.93px">
<div class="c icn" style="left:248.5px;width:18.2px"><svg class="ic" viewBox="0 0 18 17"><rect x=".5" y=".5" width="17" height="16" fill="#6db24c" stroke="#55913c"/><path d="M3.2 13.2 L6.4 12.6 L8.4 9.8 L11 9.4 L12.4 6.2 L14.8 3.6" fill="none" stroke="#c6f8ab" stroke-width="2.5" stroke-linecap="round" stroke-linejoin="round"/></svg></div>
<div class="c" style="left:266.7px;width:40.1px"><span>24<b>,</b>425</span></div>
<div class="c" style="left:306.8px;width:34.1px"><span>10<b>,</b>908</span></div>
<div class="c" style="left:340.9px;width:43px"><span>1<b>,</b>42<b>,</b>535</span></div>
<div class="c" style="left:383.9px;width:26.2px"><span>20.68</span></div>
<div class="c ltp" style="left:410.1px;width:33.5px"><span>2.85</span></div>
<div class="c neg" style="left:443.6px;width:34.1px"><span>-3.70</span></div>
<div class="c" style="left:477.7px;width:33.3px"><span>2<b>,</b>925</span></div>
<div class="c" style="left:511px;width:33.9px"><span>2.85</span></div>
<div class="c" style="left:544.9px;width:33.5px"><span>2.90</span></div>
<div class="c" style="left:578.4px;width:34.3px"><span>7<b>,</b>050</span></div>
<div class="c sp" style="left:612.7px;width:50px"><span>15<b>,</b>600.00</span></div>
<div class="c cr" style="left:662.7px;width:34.2px"><span>525</span></div>
<div class="c cr" style="left:696.9px;width:34.8px"><span>832.50</span></div>
<div class="c cr" style="left:731.7px;width:34.1px"><span>857.05</span></div>
<div class="c cr" style="left:765.8px;width:34.4px"><span>150</span></div>
<div class="c cr neg" style="left:800.2px;width:33.9px"><span>-149.80</span></div>
<div class="c cr ltp" style="left:834.1px;width:34.1px"><span>875.35</span></div>
<div class="c cr" style="left:868.2px;width:26.5px"><span>37.20</span></div>
<div class="c cr" style="left:894.7px;width:43.6px"><span>113</span></div>
<div class="c cr" style="left:938.3px;width:34.4px"><span>-35</span></div>
<div class="c cr" style="left:972.7px;width:41.4px"><span>523</span></div>
<div class="c icn r" style="left:1014.1px;width:19px"><svg class="ic" viewBox="0 0 18 17"><rect x=".5" y=".5" width="17" height="16" fill="#6db24c" stroke="#55913c"/><path d="M3.2 13.2 L6.4 12.6 L8.4 9.8 L11 9.4 L12.4 6.2 L14.8 3.6" fill="none" stroke="#c6f8ab" stroke-width="2.5" stroke-linecap="round" stroke-linejoin="round"/></svg></div>
</div>
<div class="rw" style="top:634.06px">
<div class="c" style="left:248.5px;width:18.2px"></div>
<div class="c" style="left:266.7px;width:40.1px"></div>
<div class="c" style="left:306.8px;width:34.1px"></div>
<div class="c" style="left:340.9px;width:43px"></div>
<div class="c" style="left:383.9px;width:26.2px"></div>
<div class="c" style="left:410.1px;width:33.5px"></div>
<div class="c" style="left:443.6px;width:34.1px"></div>
<div class="c" style="left:477.7px;width:33.3px"></div>
<div class="c" style="left:511px;width:33.9px"></div>
<div class="c" style="left:544.9px;width:33.5px"></div>
<div class="c" style="left:578.4px;width:34.3px"></div>
<div class="c" style="left:612.7px;width:50px"></div>
<div class="c cr" style="left:662.7px;width:34.2px"></div>
<div class="c cr" style="left:696.9px;width:34.8px"></div>
<div class="c cr" style="left:731.7px;width:34.1px"></div>
<div class="c cr" style="left:765.8px;width:34.4px"></div>
<div class="c cr" style="left:800.2px;width:33.9px"></div>
<div class="c cr" style="left:834.1px;width:34.1px"></div>
<div class="c cr" style="left:868.2px;width:26.5px"></div>
<div class="c cr" style="left:894.7px;width:43.6px"></div>
<div class="c cr" style="left:938.3px;width:34.4px"></div>
<div class="c cr" style="left:972.7px;width:41.4px"></div>
<div class="c" style="left:1014.1px;width:19px"></div>
</div>
</div>
<div class="ob" style="top:128.3px"><svg viewBox="0 0 26.5 22.6" width="26.5" height="22.6"><g fill="#fdeee0" transform="translate(1.1 2.6) scale(.92)"><circle cx="13.3" cy="4.6" r="1.35"/><path d="M8.3 6.6 L12.2 7.9 L14.4 7.9 L18.3 6.6 L18.7 7.6 L15 9.3 L15 12 L16.4 16.6 L15.2 17 L13.3 12.8 L11.4 17 L10.2 16.6 L11.6 12 L11.6 9.3 L7.9 7.6 Z"/></g></svg></div>
<div class="ob" style="top:158.2px;height:23.3px"><svg viewBox="0 0 26.5 23.3" width="26.5" height="23.3"><g transform="translate(-.2 .5)"><path d="M10.6 7.3 L10.6 6 L18.3 6 L18.3 16 L17 16" fill="none" stroke="#fbe3cf" stroke-width="1.1"/><rect x="9" y="7.6" width="7.6" height="10.2" rx=".6" fill="#fdf1e6"/><rect x="11" y="10.6" width="3.6" height="3.8" fill="#e9b79a"/></g></svg></div>
<div id="ycirc"></div>
<svg id="hand" viewBox="0 0 40 36" width="40" height="36"><path d="M23.4 16.2 Q23.4 15 24.5 15 Q25.6 15 25.6 16.2 L25.6 20 Q25.8 18.6 26.9 18.7 Q27.8 18.8 27.8 20.2 Q28 19.3 29 19.5 Q29.8 19.7 29.8 21 Q30.2 20.2 31 20.5 Q31.9 20.9 31.8 22.5 L31.8 26 Q31.6 28.5 30 30.5 L24.5 30.5 Q22.5 28 20.4 25.2 Q19.8 24.2 20.8 23.8 Q21.8 23.6 23.4 25 Z" fill="#fff" stroke="#3c3c3c" stroke-width="1" stroke-linejoin="round"/><path d="M25.6 19.6 L25.6 22.6 M27.8 20.2 L27.8 22.8 M29.8 21 L29.8 23.2" stroke="#3c3c3c" stroke-width=".8" fill="none"/></svg>

<div class="bar" style="left:0;top:0;width:1280px;height:82.6px"></div>
<div class="bar" style="left:0;top:637.4px;width:1280px;height:1.4px;background:#fff"></div>
<div class="bar" style="left:0;top:638.7px;width:1280px;height:82px"></div>
<div class="bar" style="left:0;top:0;width:1px;height:720px"></div>
</body></html>
